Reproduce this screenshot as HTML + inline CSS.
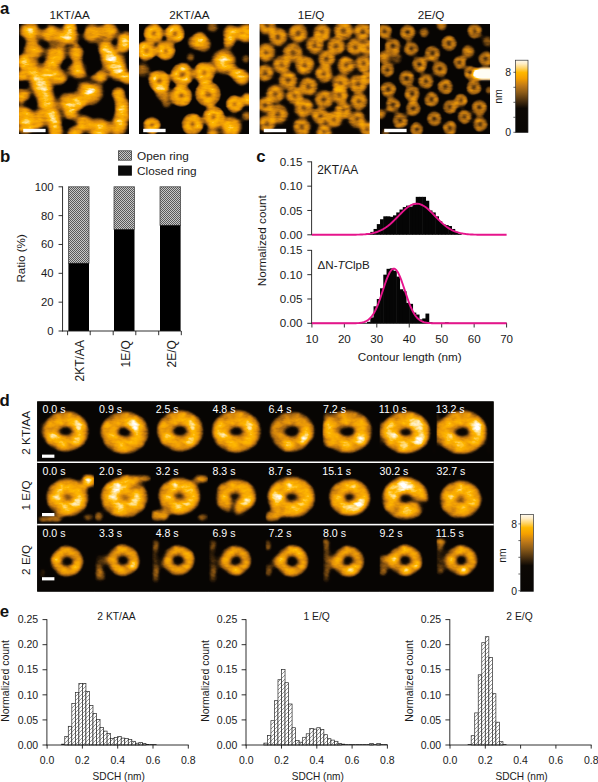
<!DOCTYPE html>
<html lang="en"><head><meta charset="utf-8"><title>Figure</title>
<style>html,body{margin:0;padding:0;background:#fff;}body{width:598px;height:782px;overflow:hidden;}svg{display:block;font-family:"Liberation Sans", Arial, Helvetica, sans-serif;}</style>
</head><body>
<svg width="598" height="782" viewBox="0 0 598 782">
<defs>
<filter id="afm" x="0" y="0" width="1" height="1" filterUnits="objectBoundingBox" color-interpolation-filters="sRGB">
<feGaussianBlur in="SourceGraphic" stdDeviation="1.6" result="b"/>
<feTurbulence type="fractalNoise" baseFrequency="0.10 0.24" numOctaves="3" seed="3" result="n"/>
<feColorMatrix in="n" type="matrix" values="0.6 0.6 0 0 0  0.6 0.6 0 0 0  0.6 0.6 0 0 0  0 0 0 0 1" result="ng"/>
<feComposite in="b" in2="ng" operator="arithmetic" k1="0.55" k2="0.725" k3="0" k4="0" result="m"/>
<feComponentTransfer in="m">
<feFuncR type="table" tableValues=".03 .03 .04 .16 .42 .65 .84 .95 1 1 1"/>
<feFuncG type="table" tableValues=".02 .02 .025 .10 .26 .40 .53 .63 .72 .88 1"/>
<feFuncB type="table" tableValues=".015 .015 .015 .03 .06 .07 .05 .02 0 .55 1"/>
<feFuncA type="linear" slope="0" intercept="1"/>
</feComponentTransfer></filter>
<filter id="afmd" x="0" y="0" width="1" height="1" filterUnits="objectBoundingBox" color-interpolation-filters="sRGB">
<feGaussianBlur in="SourceGraphic" stdDeviation="2.4" result="b"/>
<feTurbulence type="fractalNoise" baseFrequency="0.085 0.15" numOctaves="3" seed="7" result="n"/>
<feColorMatrix in="n" type="matrix" values="0.6 0.6 0 0 0  0.6 0.6 0 0 0  0.6 0.6 0 0 0  0 0 0 0 1" result="ng"/>
<feComposite in="b" in2="ng" operator="arithmetic" k1="0.75" k2="0.625" k3="0" k4="0" result="m"/>
<feComponentTransfer in="m">
<feFuncR type="table" tableValues=".03 .03 .04 .16 .42 .65 .84 .95 1 1 1"/>
<feFuncG type="table" tableValues=".02 .02 .025 .10 .26 .40 .53 .63 .72 .88 1"/>
<feFuncB type="table" tableValues=".015 .015 .015 .03 .06 .07 .05 .02 0 .55 1"/>
<feFuncA type="linear" slope="0" intercept="1"/>
</feComponentTransfer></filter>
<radialGradient id="bg"><stop offset="0" stop-color="#fff" stop-opacity="1"/><stop offset="0.45" stop-color="#fff" stop-opacity="0.82"/><stop offset="0.75" stop-color="#fff" stop-opacity="0.38"/><stop offset="1" stop-color="#fff" stop-opacity="0"/></radialGradient>
<filter id="soft" x="-0.3" y="-0.3" width="1.6" height="1.6"><feGaussianBlur stdDeviation="0.8"/></filter>
<linearGradient id="cbar" x1="0" y1="0" x2="0" y2="1">
<stop offset="0" stop-color="#fffaf0"/><stop offset="0.05" stop-color="#ffedc4"/><stop offset="0.11" stop-color="#ffd468"/>
<stop offset="0.17" stop-color="#ffb800"/><stop offset="0.25" stop-color="#f5a000"/><stop offset="0.35" stop-color="#c07a18"/>
<stop offset="0.45" stop-color="#8a5a18"/><stop offset="0.56" stop-color="#4a3010"/><stop offset="0.665" stop-color="#0c0804"/>
<stop offset="1" stop-color="#080604"/></linearGradient>
<pattern id="dots" width="2" height="2" patternUnits="userSpaceOnUse"><rect width="2" height="2" fill="#c8c8c8"/><rect width="1" height="1" fill="#5a5a5a"/><rect x="1" y="1" width="1" height="1" fill="#5a5a5a"/></pattern>
<pattern id="hatch" width="4" height="4" patternUnits="userSpaceOnUse"><rect width="4" height="4" fill="#fff"/><path d="M-1,5 L5,-1 M-1,1 L1,-1 M3,5 L5,3" stroke="#7d7d7d" stroke-width="0.8"/></pattern>
</defs>
<rect width="598" height="782" fill="#fff"/>
<text x="0.0" y="14.2" font-size="16.8" text-anchor="start" font-weight="bold" fill="#111">a</text>
<text x="0.0" y="162.1" font-size="16.8" text-anchor="start" font-weight="bold" fill="#111">b</text>
<text x="256.3" y="162.1" font-size="16.8" text-anchor="start" font-weight="bold" fill="#111">c</text>
<text x="-0.4" y="405.9" font-size="16.8" text-anchor="start" font-weight="bold" fill="#111">d</text>
<text x="-0.2" y="616.6" font-size="16.8" text-anchor="start" font-weight="bold" fill="#111">e</text>
<text x="69.6" y="18.8" font-size="11.7" text-anchor="middle" font-weight="normal" fill="#1a1a1a">1KT/AA</text>
<g transform="translate(19.0 24.0)"><svg width="110" height="110" viewBox="0 0 110 110" overflow="hidden">
<g filter="url(#afm)"><rect x="-5" y="-5" width="120" height="120" fill="#000"/>
<circle cx="11.04" cy="7.36" r="14.39" fill="url(#bg)" fill-opacity="0.792"/>
<circle cx="31.27" cy="10.12" r="13.49" fill="url(#bg)" fill-opacity="0.7480000000000001"/>
<circle cx="48.75" cy="13.25" r="14.99" fill="url(#bg)" fill-opacity="0.792"/>
<circle cx="51.51" cy="2.76" r="9.00" fill="url(#bg)" fill-opacity="0.7480000000000001"/>
<circle cx="73.58" cy="9.20" r="13.79" fill="url(#bg)" fill-opacity="0.7480000000000001"/>
<circle cx="90.14" cy="7.36" r="12.59" fill="url(#bg)" fill-opacity="0.7480000000000001"/>
<circle cx="106.70" cy="14.72" r="10.79" fill="url(#bg)" fill-opacity="0.7480000000000001"/>
<circle cx="14.72" cy="25.75" r="13.79" fill="url(#bg)" fill-opacity="0.7480000000000001"/>
<circle cx="36.79" cy="31.27" r="13.79" fill="url(#bg)" fill-opacity="0.8140000000000001"/>
<circle cx="57.03" cy="28.51" r="10.79" fill="url(#bg)" fill-opacity="0.7480000000000001"/>
<circle cx="86.46" cy="23.91" r="10.79" fill="url(#bg)" fill-opacity="0.7480000000000001"/>
<circle cx="104.86" cy="22.08" r="9.60" fill="url(#bg)" fill-opacity="0.7480000000000001"/>
<circle cx="93.82" cy="35.87" r="16.79" fill="url(#bg)" fill-opacity="0.8140000000000001"/>
<circle cx="3.68" cy="36.79" r="9.00" fill="url(#bg)" fill-opacity="0.7480000000000001"/>
<circle cx="11.04" cy="44.15" r="13.79" fill="url(#bg)" fill-opacity="0.7480000000000001"/>
<circle cx="31.27" cy="44.15" r="11.99" fill="url(#bg)" fill-opacity="0.7480000000000001"/>
<circle cx="58.87" cy="45.07" r="13.79" fill="url(#bg)" fill-opacity="0.792"/>
<circle cx="99.34" cy="47.83" r="12.59" fill="url(#bg)" fill-opacity="0.792"/>
<circle cx="108.54" cy="54.27" r="9.00" fill="url(#bg)" fill-opacity="0.7480000000000001"/>
<circle cx="2.76" cy="52.43" r="7.50" fill="url(#bg)" fill-opacity="0.7480000000000001"/>
<circle cx="22.08" cy="57.95" r="16.79" fill="url(#bg)" fill-opacity="0.8360000000000001"/>
<circle cx="40.47" cy="53.35" r="10.79" fill="url(#bg)" fill-opacity="0.7480000000000001"/>
<circle cx="80.94" cy="53.35" r="10.79" fill="url(#bg)" fill-opacity="0.7480000000000001"/>
<circle cx="70.82" cy="68.06" r="17.99" fill="url(#bg)" fill-opacity="0.8140000000000001"/>
<circle cx="25.75" cy="71.74" r="13.19" fill="url(#bg)" fill-opacity="0.7480000000000001"/>
<circle cx="3.68" cy="71.74" r="10.79" fill="url(#bg)" fill-opacity="0.7480000000000001"/>
<circle cx="99.34" cy="69.90" r="9.60" fill="url(#bg)" fill-opacity="0.7480000000000001"/>
<circle cx="49.67" cy="77.26" r="13.79" fill="url(#bg)" fill-opacity="0.7480000000000001"/>
<circle cx="60.71" cy="79.47" r="9.00" fill="url(#bg)" fill-opacity="0.7480000000000001"/>
<circle cx="29.43" cy="84.62" r="14.99" fill="url(#bg)" fill-opacity="0.7480000000000001"/>
<circle cx="103.02" cy="80.94" r="10.79" fill="url(#bg)" fill-opacity="0.7480000000000001"/>
<circle cx="103.02" cy="91.98" r="11.99" fill="url(#bg)" fill-opacity="0.7480000000000001"/>
<circle cx="3.68" cy="90.14" r="13.19" fill="url(#bg)" fill-opacity="0.7480000000000001"/>
<circle cx="16.56" cy="97.50" r="13.79" fill="url(#bg)" fill-opacity="0.7480000000000001"/>
<circle cx="51.51" cy="88.67" r="10.19" fill="url(#bg)" fill-opacity="0.7480000000000001"/>
<circle cx="34.95" cy="96.03" r="11.39" fill="url(#bg)" fill-opacity="0.7480000000000001"/>
<circle cx="80.94" cy="104.86" r="14.99" fill="url(#bg)" fill-opacity="0.792"/>
<circle cx="64.39" cy="99.34" r="12.59" fill="url(#bg)" fill-opacity="0.7480000000000001"/>
<circle cx="99.34" cy="103.38" r="12.59" fill="url(#bg)" fill-opacity="0.7480000000000001"/>
<circle cx="36.79" cy="107.06" r="10.79" fill="url(#bg)" fill-opacity="0.7480000000000001"/>
<circle cx="5.52" cy="103.38" r="10.19" fill="url(#bg)" fill-opacity="0.7480000000000001"/>
<circle cx="55.19" cy="108.90" r="9.60" fill="url(#bg)" fill-opacity="0.7480000000000001"/>
<circle cx="91.98" cy="34.03" r="6.60" fill="url(#bg)" fill-opacity="0.55"/>
<circle cx="22.08" cy="57.40" r="7.20" fill="url(#bg)" fill-opacity="0.49500000000000005"/>
<circle cx="70.82" cy="67.14" r="7.20" fill="url(#bg)" fill-opacity="0.49500000000000005"/>
<circle cx="11.04" cy="7.36" r="5.40" fill="url(#bg)" fill-opacity="0.33"/>
<circle cx="48.75" cy="12.88" r="6.00" fill="url(#bg)" fill-opacity="0.33"/>
<circle cx="80.94" cy="105.22" r="6.00" fill="url(#bg)" fill-opacity="0.33"/>
<ellipse cx="2.76" cy="17.48" rx="4.14" ry="5.79" fill="#000" fill-opacity="0.42" transform="rotate(0 2.76 17.48)"/>
<ellipse cx="23.91" cy="19.32" rx="5.79" ry="3.64" fill="#000" fill-opacity="0.42" transform="rotate(0 23.91 19.32)"/>
<ellipse cx="50.59" cy="21.71" rx="4.97" ry="2.98" fill="#000" fill-opacity="0.42" transform="rotate(0 50.59 21.71)"/>
<ellipse cx="72.66" cy="41.39" rx="9.93" ry="9.11" fill="#000" fill-opacity="0.42" transform="rotate(0 72.66 41.39)"/>
<ellipse cx="48.75" cy="38.63" rx="5.79" ry="3.64" fill="#000" fill-opacity="0.42" transform="rotate(0 48.75 38.63)"/>
<ellipse cx="4.05" cy="60.71" rx="4.97" ry="4.64" fill="#000" fill-opacity="0.42" transform="rotate(0 4.05 60.71)"/>
<ellipse cx="48.75" cy="65.31" rx="8.28" ry="4.64" fill="#000" fill-opacity="0.42" transform="rotate(0 48.75 65.31)"/>
<ellipse cx="77.26" cy="58.50" rx="18.21" ry="2.98" fill="#000" fill-opacity="0.42" transform="rotate(8 77.26 58.50)"/>
<ellipse cx="10.67" cy="79.10" rx="6.95" ry="4.30" fill="#000" fill-opacity="0.42" transform="rotate(0 10.67 79.10)"/>
<ellipse cx="87.38" cy="84.62" rx="8.28" ry="10.76" fill="#000" fill-opacity="0.42" transform="rotate(0 87.38 84.62)"/>
<ellipse cx="51.51" cy="100.26" rx="8.28" ry="2.81" fill="#000" fill-opacity="0.42" transform="rotate(0 51.51 100.26)"/>
<ellipse cx="22.08" cy="107.06" rx="3.64" ry="3.31" fill="#000" fill-opacity="0.42" transform="rotate(0 22.08 107.06)"/>
<ellipse cx="103.02" cy="29.43" rx="5.79" ry="1.99" fill="#000" fill-opacity="0.42" transform="rotate(0 103.02 29.43)"/>
<ellipse cx="23.91" cy="3.31" rx="4.64" ry="2.98" fill="#000" fill-opacity="0.42" transform="rotate(0 23.91 3.31)"/>
<ellipse cx="62.55" cy="5.52" rx="3.31" ry="4.97" fill="#000" fill-opacity="0.6" transform="rotate(0 62.55 5.52)"/>
<ellipse cx="69.90" cy="86.46" rx="6.62" ry="4.14" fill="#000" fill-opacity="0.7" transform="rotate(0 69.90 86.46)"/>
</g>
<rect x="4.2" y="104.8" width="22.4" height="3.4" fill="#fff"/>
</svg></g>
<text x="189.4" y="18.8" font-size="11.7" text-anchor="middle" font-weight="normal" fill="#1a1a1a">2KT/AA</text>
<g transform="translate(139.0 24.0)"><svg width="110" height="110" viewBox="0 0 110 110" overflow="hidden">
<g filter="url(#afm)"><rect x="-5" y="-5" width="120" height="120" fill="#000"/>
<circle cx="14.72" cy="9.20" r="6.57" fill="#fff" fill-opacity="0.44" stroke="#fff" stroke-opacity="0.53" stroke-width="7.72"/>
<circle cx="8.35" cy="10.80" r="5.21" fill="url(#bg)" fill-opacity="0.2863579051242713"/>
<circle cx="15.99" cy="2.75" r="5.21" fill="url(#bg)" fill-opacity="0.2114114291512088"/>
<circle cx="19.18" cy="14.02" r="5.21" fill="url(#bg)" fill-opacity="0.15323886189387778"/>
<circle cx="35.87" cy="9.20" r="6.57" fill="#fff" fill-opacity="0.44" stroke="#fff" stroke-opacity="0.53" stroke-width="7.72"/>
<circle cx="29.42" cy="7.97" r="5.21" fill="url(#bg)" fill-opacity="0.2627358370535915"/>
<circle cx="37.46" cy="2.82" r="5.21" fill="url(#bg)" fill-opacity="0.17461222727241457"/>
<circle cx="40.61" cy="13.75" r="5.21" fill="url(#bg)" fill-opacity="0.26573601618609194"/>
<circle cx="7.36" cy="26.67" r="6.57" fill="#fff" fill-opacity="0.44" stroke="#fff" stroke-opacity="0.53" stroke-width="7.72"/>
<circle cx="2.86" cy="21.89" r="5.21" fill="url(#bg)" fill-opacity="0.2967948157437801"/>
<circle cx="12.88" cy="30.24" r="5.21" fill="url(#bg)" fill-opacity="0.23770605603609127"/>
<circle cx="2.68" cy="31.29" r="5.21" fill="url(#bg)" fill-opacity="0.14834893712522923"/>
<circle cx="26.67" cy="26.67" r="6.57" fill="#fff" fill-opacity="0.44" stroke="#fff" stroke-opacity="0.53" stroke-width="7.72"/>
<circle cx="33.20" cy="27.45" r="5.21" fill="url(#bg)" fill-opacity="0.13071919893039388"/>
<circle cx="24.44" cy="32.85" r="5.21" fill="url(#bg)" fill-opacity="0.16354974245973863"/>
<circle cx="21.79" cy="22.29" r="5.21" fill="url(#bg)" fill-opacity="0.2035082030201912"/>
<circle cx="43.23" cy="50.59" r="7.58" fill="#fff" fill-opacity="0.44" stroke="#fff" stroke-opacity="0.53" stroke-width="8.90"/>
<circle cx="35.67" cy="51.16" r="6.02" fill="url(#bg)" fill-opacity="0.2134423406575338"/>
<circle cx="45.27" cy="43.29" r="6.02" fill="url(#bg)" fill-opacity="0.20995916739722248"/>
<circle cx="48.43" cy="56.11" r="6.02" fill="url(#bg)" fill-opacity="0.20231937868792038"/>
<circle cx="65.31" cy="48.75" r="7.07" fill="#fff" fill-opacity="0.44" stroke="#fff" stroke-opacity="0.53" stroke-width="8.31"/>
<circle cx="61.25" cy="54.54" r="5.61" fill="url(#bg)" fill-opacity="0.2992244954981158"/>
<circle cx="61.47" cy="42.81" r="5.61" fill="url(#bg)" fill-opacity="0.24740573186963088"/>
<circle cx="71.49" cy="45.31" r="5.61" fill="url(#bg)" fill-opacity="0.161339862289423"/>
<circle cx="20.24" cy="57.03" r="7.07" fill="#fff" fill-opacity="0.44" stroke="#fff" stroke-opacity="0.53" stroke-width="8.31"/>
<circle cx="21.15" cy="64.04" r="5.61" fill="url(#bg)" fill-opacity="0.25793181955387323"/>
<circle cx="14.74" cy="52.57" r="5.61" fill="url(#bg)" fill-opacity="0.2723850519386122"/>
<circle cx="26.81" cy="54.42" r="5.61" fill="url(#bg)" fill-opacity="0.29244762899756643"/>
<circle cx="68.98" cy="69.90" r="8.34" fill="#fff" fill-opacity="0.44" stroke="#fff" stroke-opacity="0.53" stroke-width="9.79"/>
<circle cx="70.44" cy="61.70" r="6.62" fill="url(#bg)" fill-opacity="0.15774913465133"/>
<circle cx="69.63" cy="78.22" r="6.62" fill="url(#bg)" fill-opacity="0.20459770968245994"/>
<circle cx="61.70" cy="65.86" r="6.62" fill="url(#bg)" fill-opacity="0.1915363898542706"/>
<circle cx="42.31" cy="71.74" r="7.07" fill="#fff" fill-opacity="0.44" stroke="#fff" stroke-opacity="0.53" stroke-width="8.31"/>
<circle cx="48.26" cy="75.57" r="5.61" fill="url(#bg)" fill-opacity="0.26013195456179716"/>
<circle cx="37.33" cy="76.77" r="5.61" fill="url(#bg)" fill-opacity="0.13568595570339062"/>
<circle cx="40.83" cy="64.83" r="5.61" fill="url(#bg)" fill-opacity="0.2935337189868775"/>
<circle cx="95.66" cy="80.02" r="5.81" fill="#fff" fill-opacity="0.44" stroke="#fff" stroke-opacity="0.53" stroke-width="6.83"/>
<circle cx="94.04" cy="74.44" r="4.61" fill="url(#bg)" fill-opacity="0.16434983080076337"/>
<circle cx="101.32" cy="81.32" r="4.61" fill="url(#bg)" fill-opacity="0.1307808125293938"/>
<circle cx="89.98" cy="81.26" r="4.61" fill="url(#bg)" fill-opacity="0.1519820630757059"/>
<circle cx="74.50" cy="92.90" r="7.07" fill="#fff" fill-opacity="0.44" stroke="#fff" stroke-opacity="0.53" stroke-width="8.31"/>
<circle cx="67.80" cy="90.63" r="5.61" fill="url(#bg)" fill-opacity="0.15432319475226589"/>
<circle cx="80.80" cy="89.68" r="5.61" fill="url(#bg)" fill-opacity="0.14357407506899153"/>
<circle cx="74.68" cy="99.97" r="5.61" fill="url(#bg)" fill-opacity="0.140971437775147"/>
<circle cx="53.35" cy="100.26" r="7.07" fill="#fff" fill-opacity="0.44" stroke="#fff" stroke-opacity="0.53" stroke-width="8.31"/>
<circle cx="48.16" cy="105.07" r="5.61" fill="url(#bg)" fill-opacity="0.16856309589430768"/>
<circle cx="56.34" cy="93.85" r="5.61" fill="url(#bg)" fill-opacity="0.2646140705547728"/>
<circle cx="59.92" cy="102.87" r="5.61" fill="url(#bg)" fill-opacity="0.27927572029481473"/>
<circle cx="12.88" cy="101.55" r="5.81" fill="#fff" fill-opacity="0.44" stroke="#fff" stroke-opacity="0.53" stroke-width="6.83"/>
<circle cx="14.81" cy="107.03" r="4.61" fill="url(#bg)" fill-opacity="0.27378784230622144"/>
<circle cx="7.53" cy="99.28" r="4.61" fill="url(#bg)" fill-opacity="0.13805989539309893"/>
<circle cx="18.35" cy="99.59" r="4.61" fill="url(#bg)" fill-opacity="0.15838380634395405"/>
<circle cx="73.58" cy="2.76" r="9.17" fill="url(#bg)" fill-opacity="0.5"/>
<circle cx="91.98" cy="9.20" r="11.13" fill="url(#bg)" fill-opacity="0.8"/>
<circle cx="90.14" cy="18.40" r="8.51" fill="url(#bg)" fill-opacity="0.66"/>
<circle cx="106.70" cy="9.20" r="13.10" fill="url(#bg)" fill-opacity="0.8"/>
<circle cx="84.62" cy="37.71" r="16.37" fill="url(#bg)" fill-opacity="0.85"/>
<circle cx="3.68" cy="45.99" r="11.13" fill="url(#bg)" fill-opacity="0.5"/>
<circle cx="103.02" cy="53.35" r="11.13" fill="url(#bg)" fill-opacity="0.8"/>
<circle cx="95.66" cy="48.75" r="8.51" fill="url(#bg)" fill-opacity="0.66"/>
<circle cx="106.70" cy="34.95" r="7.20" fill="url(#bg)" fill-opacity="0.45"/>
<circle cx="23.91" cy="68.98" r="11.13" fill="url(#bg)" fill-opacity="0.62"/>
<circle cx="108.54" cy="75.42" r="9.17" fill="url(#bg)" fill-opacity="0.8"/>
<circle cx="91.98" cy="103.02" r="14.41" fill="url(#bg)" fill-opacity="0.85"/>
<circle cx="107.62" cy="91.98" r="7.86" fill="url(#bg)" fill-opacity="0.55"/>
<circle cx="73.58" cy="108.17" r="9.17" fill="url(#bg)" fill-opacity="0.6"/>
<circle cx="51.51" cy="33.11" r="7.20" fill="url(#bg)" fill-opacity="0.45"/>
<circle cx="27.59" cy="79.47" r="7.86" fill="url(#bg)" fill-opacity="0.45"/>
<circle cx="55.19" cy="18.40" r="9.82" fill="url(#bg)" fill-opacity="0.6"/>
<circle cx="64.39" cy="20.24" r="11.13" fill="url(#bg)" fill-opacity="0.66"/>
<circle cx="60.71" cy="12.88" r="8.51" fill="url(#bg)" fill-opacity="0.55"/>
</g>
<rect x="4.2" y="104.8" width="22.4" height="3.4" fill="#fff"/>
</svg></g>
<text x="311.0" y="18.8" font-size="11.7" text-anchor="middle" font-weight="normal" fill="#1a1a1a">1E/Q</text>
<g transform="translate(259.6 24.0)"><svg width="110" height="110" viewBox="0 0 110 110" overflow="hidden">
<g filter="url(#afm)"><rect x="-5" y="-5" width="120" height="120" fill="#000"/>
<circle cx="7.36" cy="1.47" r="5.89" fill="#fff" fill-opacity="0.25" stroke="#fff" stroke-opacity="0.37" stroke-width="6.34"/>
<circle cx="5.68" cy="7.11" r="4.53" fill="url(#bg)" fill-opacity="0.1060537595766822"/>
<circle cx="1.93" cy="-0.81" r="4.53" fill="url(#bg)" fill-opacity="0.07027579747437938"/>
<circle cx="11.33" cy="-2.87" r="4.53" fill="url(#bg)" fill-opacity="0.1415828717434573"/>
<circle cx="18.40" cy="12.88" r="6.14" fill="#fff" fill-opacity="0.25" stroke="#fff" stroke-opacity="0.37" stroke-width="6.61"/>
<circle cx="18.12" cy="19.01" r="4.72" fill="url(#bg)" fill-opacity="0.11203856652305194"/>
<circle cx="12.84" cy="10.27" r="4.72" fill="url(#bg)" fill-opacity="0.19427885414822382"/>
<circle cx="23.53" cy="9.50" r="4.72" fill="url(#bg)" fill-opacity="0.14043997436019268"/>
<circle cx="38.63" cy="9.20" r="6.40" fill="#fff" fill-opacity="0.25" stroke="#fff" stroke-opacity="0.37" stroke-width="6.89"/>
<circle cx="41.44" cy="3.45" r="4.92" fill="url(#bg)" fill-opacity="0.08157894464964852"/>
<circle cx="38.37" cy="15.59" r="4.92" fill="url(#bg)" fill-opacity="0.17449227292435077"/>
<circle cx="32.23" cy="9.26" r="4.92" fill="url(#bg)" fill-opacity="0.0865720932348564"/>
<circle cx="62.55" cy="8.28" r="5.89" fill="#fff" fill-opacity="0.25" stroke="#fff" stroke-opacity="0.37" stroke-width="6.34"/>
<circle cx="64.39" cy="2.69" r="4.53" fill="url(#bg)" fill-opacity="0.08752257135641842"/>
<circle cx="66.43" cy="12.70" r="4.53" fill="url(#bg)" fill-opacity="0.18350656559729778"/>
<circle cx="57.38" cy="11.10" r="4.53" fill="url(#bg)" fill-opacity="0.11900401135263011"/>
<circle cx="83.70" cy="6.44" r="6.40" fill="#fff" fill-opacity="0.25" stroke="#fff" stroke-opacity="0.37" stroke-width="6.89"/>
<circle cx="89.90" cy="8.02" r="4.92" fill="url(#bg)" fill-opacity="0.19477541160378614"/>
<circle cx="78.51" cy="10.17" r="4.92" fill="url(#bg)" fill-opacity="0.15864112447817277"/>
<circle cx="83.17" cy="0.06" r="4.92" fill="url(#bg)" fill-opacity="0.17532049854602938"/>
<circle cx="103.02" cy="7.36" r="5.89" fill="#fff" fill-opacity="0.25" stroke="#fff" stroke-opacity="0.37" stroke-width="6.34"/>
<circle cx="97.66" cy="4.93" r="4.53" fill="url(#bg)" fill-opacity="0.0845606755472203"/>
<circle cx="108.72" cy="5.91" r="4.53" fill="url(#bg)" fill-opacity="0.06962865738344211"/>
<circle cx="103.92" cy="13.17" r="4.53" fill="url(#bg)" fill-opacity="0.13831128799536124"/>
<circle cx="6.44" cy="28.51" r="6.14" fill="#fff" fill-opacity="0.25" stroke="#fff" stroke-opacity="0.37" stroke-width="6.61"/>
<circle cx="10.59" cy="23.99" r="4.72" fill="url(#bg)" fill-opacity="0.0992307149599197"/>
<circle cx="6.68" cy="34.65" r="4.72" fill="url(#bg)" fill-opacity="0.08855704311175581"/>
<circle cx="0.58" cy="30.34" r="4.72" fill="url(#bg)" fill-opacity="0.09768714992403774"/>
<circle cx="33.11" cy="28.51" r="6.40" fill="#fff" fill-opacity="0.25" stroke="#fff" stroke-opacity="0.37" stroke-width="6.89"/>
<circle cx="28.32" cy="32.75" r="4.92" fill="url(#bg)" fill-opacity="0.0846755285521944"/>
<circle cx="33.55" cy="22.13" r="4.92" fill="url(#bg)" fill-opacity="0.14010371920637127"/>
<circle cx="39.04" cy="30.91" r="4.92" fill="url(#bg)" fill-opacity="0.11070032193792732"/>
<circle cx="55.19" cy="21.16" r="5.89" fill="#fff" fill-opacity="0.25" stroke="#fff" stroke-opacity="0.37" stroke-width="6.34"/>
<circle cx="60.87" cy="19.61" r="4.53" fill="url(#bg)" fill-opacity="0.1519704865113401"/>
<circle cx="55.16" cy="27.04" r="4.53" fill="url(#bg)" fill-opacity="0.14182163754522506"/>
<circle cx="49.31" cy="20.87" r="4.53" fill="url(#bg)" fill-opacity="0.06491127512829178"/>
<circle cx="76.34" cy="22.08" r="5.89" fill="#fff" fill-opacity="0.25" stroke="#fff" stroke-opacity="0.37" stroke-width="6.34"/>
<circle cx="81.59" cy="24.74" r="4.53" fill="url(#bg)" fill-opacity="0.1581358026240219"/>
<circle cx="71.27" cy="25.05" r="4.53" fill="url(#bg)" fill-opacity="0.0629762849492742"/>
<circle cx="74.65" cy="16.44" r="4.53" fill="url(#bg)" fill-opacity="0.1275130011842987"/>
<circle cx="95.66" cy="22.99" r="5.63" fill="#fff" fill-opacity="0.25" stroke="#fff" stroke-opacity="0.37" stroke-width="6.06"/>
<circle cx="94.10" cy="17.59" r="4.33" fill="url(#bg)" fill-opacity="0.19991006769344574"/>
<circle cx="101.29" cy="23.17" r="4.33" fill="url(#bg)" fill-opacity="0.13645335027194488"/>
<circle cx="90.56" cy="25.39" r="4.33" fill="url(#bg)" fill-opacity="0.18602742337491307"/>
<circle cx="108.90" cy="23.91" r="5.12" fill="#fff" fill-opacity="0.25" stroke="#fff" stroke-opacity="0.37" stroke-width="5.51"/>
<circle cx="109.40" cy="18.82" r="3.94" fill="url(#bg)" fill-opacity="0.17105733465308776"/>
<circle cx="112.45" cy="27.60" r="3.94" fill="url(#bg)" fill-opacity="0.10925677353061553"/>
<circle cx="104.28" cy="26.11" r="3.94" fill="url(#bg)" fill-opacity="0.18611703150625306"/>
<circle cx="22.08" cy="40.47" r="5.89" fill="#fff" fill-opacity="0.25" stroke="#fff" stroke-opacity="0.37" stroke-width="6.34"/>
<circle cx="25.81" cy="35.93" r="4.53" fill="url(#bg)" fill-opacity="0.17067448008237596"/>
<circle cx="21.89" cy="46.35" r="4.53" fill="url(#bg)" fill-opacity="0.14019304977383132"/>
<circle cx="16.54" cy="38.47" r="4.53" fill="url(#bg)" fill-opacity="0.11352669382903499"/>
<circle cx="45.07" cy="41.39" r="6.40" fill="#fff" fill-opacity="0.25" stroke="#fff" stroke-opacity="0.37" stroke-width="6.89"/>
<circle cx="39.84" cy="37.70" r="4.92" fill="url(#bg)" fill-opacity="0.07122828403629944"/>
<circle cx="50.95" cy="38.86" r="4.92" fill="url(#bg)" fill-opacity="0.19906510633236513"/>
<circle cx="43.01" cy="47.45" r="4.92" fill="url(#bg)" fill-opacity="0.1619489907191767"/>
<circle cx="67.14" cy="34.95" r="5.63" fill="#fff" fill-opacity="0.25" stroke="#fff" stroke-opacity="0.37" stroke-width="6.06"/>
<circle cx="62.19" cy="37.63" r="4.33" fill="url(#bg)" fill-opacity="0.14133340302173653"/>
<circle cx="65.87" cy="29.47" r="4.33" fill="url(#bg)" fill-opacity="0.17737180408667963"/>
<circle cx="72.77" cy="34.86" r="4.33" fill="url(#bg)" fill-opacity="0.1650294248166262"/>
<circle cx="86.46" cy="41.39" r="5.89" fill="#fff" fill-opacity="0.25" stroke="#fff" stroke-opacity="0.37" stroke-width="6.34"/>
<circle cx="92.12" cy="42.99" r="4.53" fill="url(#bg)" fill-opacity="0.12733395414889376"/>
<circle cx="83.77" cy="46.62" r="4.53" fill="url(#bg)" fill-opacity="0.1577668551788024"/>
<circle cx="84.50" cy="35.84" r="4.53" fill="url(#bg)" fill-opacity="0.14603045666529552"/>
<circle cx="103.94" cy="39.55" r="5.63" fill="#fff" fill-opacity="0.25" stroke="#fff" stroke-opacity="0.37" stroke-width="6.06"/>
<circle cx="108.20" cy="35.87" r="4.33" fill="url(#bg)" fill-opacity="0.06158300870294264"/>
<circle cx="104.78" cy="45.12" r="4.33" fill="url(#bg)" fill-opacity="0.15493917707835236"/>
<circle cx="98.54" cy="37.95" r="4.33" fill="url(#bg)" fill-opacity="0.08374500144666418"/>
<circle cx="5.52" cy="48.75" r="5.63" fill="#fff" fill-opacity="0.25" stroke="#fff" stroke-opacity="0.37" stroke-width="6.06"/>
<circle cx="10.58" cy="46.29" r="4.33" fill="url(#bg)" fill-opacity="0.12187054730775612"/>
<circle cx="4.00" cy="54.17" r="4.33" fill="url(#bg)" fill-opacity="0.10577448663611712"/>
<circle cx="0.87" cy="45.57" r="4.33" fill="url(#bg)" fill-opacity="0.08779080904114424"/>
<circle cx="28.51" cy="56.11" r="6.14" fill="#fff" fill-opacity="0.25" stroke="#fff" stroke-opacity="0.37" stroke-width="6.61"/>
<circle cx="22.46" cy="57.13" r="4.72" fill="url(#bg)" fill-opacity="0.18799096784026073"/>
<circle cx="31.02" cy="50.50" r="4.72" fill="url(#bg)" fill-opacity="0.11381861560598643"/>
<circle cx="33.27" cy="60.00" r="4.72" fill="url(#bg)" fill-opacity="0.10430815822917935"/>
<circle cx="64.39" cy="49.67" r="5.89" fill="#fff" fill-opacity="0.25" stroke="#fff" stroke-opacity="0.37" stroke-width="6.34"/>
<circle cx="68.26" cy="54.10" r="4.53" fill="url(#bg)" fill-opacity="0.1771933864458755"/>
<circle cx="58.54" cy="49.01" r="4.53" fill="url(#bg)" fill-opacity="0.15957048661246495"/>
<circle cx="68.29" cy="45.26" r="4.53" fill="url(#bg)" fill-opacity="0.09875143956437757"/>
<circle cx="48.75" cy="62.55" r="6.14" fill="#fff" fill-opacity="0.25" stroke="#fff" stroke-opacity="0.37" stroke-width="6.61"/>
<circle cx="51.97" cy="67.78" r="4.72" fill="url(#bg)" fill-opacity="0.09852279521228717"/>
<circle cx="42.78" cy="63.97" r="4.72" fill="url(#bg)" fill-opacity="0.11795787210432242"/>
<circle cx="52.46" cy="57.65" r="4.72" fill="url(#bg)" fill-opacity="0.12914255137816533"/>
<circle cx="80.94" cy="58.87" r="5.89" fill="#fff" fill-opacity="0.25" stroke="#fff" stroke-opacity="0.37" stroke-width="6.34"/>
<circle cx="77.12" cy="63.34" r="4.53" fill="url(#bg)" fill-opacity="0.19748511081538117"/>
<circle cx="77.25" cy="54.28" r="4.53" fill="url(#bg)" fill-opacity="0.07045509037391715"/>
<circle cx="86.04" cy="55.93" r="4.53" fill="url(#bg)" fill-opacity="0.18219606760932233"/>
<circle cx="98.42" cy="59.79" r="6.14" fill="#fff" fill-opacity="0.25" stroke="#fff" stroke-opacity="0.37" stroke-width="6.61"/>
<circle cx="103.97" cy="62.42" r="4.72" fill="url(#bg)" fill-opacity="0.1398814744471763"/>
<circle cx="94.86" cy="64.79" r="4.72" fill="url(#bg)" fill-opacity="0.17081189303819433"/>
<circle cx="94.54" cy="55.02" r="4.72" fill="url(#bg)" fill-opacity="0.07902336222474625"/>
<circle cx="15.64" cy="69.90" r="6.14" fill="#fff" fill-opacity="0.25" stroke="#fff" stroke-opacity="0.37" stroke-width="6.61"/>
<circle cx="10.93" cy="73.85" r="4.72" fill="url(#bg)" fill-opacity="0.176153580824269"/>
<circle cx="15.70" cy="63.76" r="4.72" fill="url(#bg)" fill-opacity="0.07972243362336326"/>
<circle cx="21.37" cy="72.11" r="4.72" fill="url(#bg)" fill-opacity="0.14808524277912583"/>
<circle cx="34.95" cy="71.74" r="5.63" fill="#fff" fill-opacity="0.25" stroke="#fff" stroke-opacity="0.37" stroke-width="6.06"/>
<circle cx="29.46" cy="72.99" r="4.33" fill="url(#bg)" fill-opacity="0.15170602567187114"/>
<circle cx="37.43" cy="66.69" r="4.33" fill="url(#bg)" fill-opacity="0.19418449126866144"/>
<circle cx="38.57" cy="76.05" r="4.33" fill="url(#bg)" fill-opacity="0.08790779914958248"/>
<circle cx="64.39" cy="75.42" r="6.14" fill="#fff" fill-opacity="0.25" stroke="#fff" stroke-opacity="0.37" stroke-width="6.61"/>
<circle cx="58.82" cy="78.02" r="4.72" fill="url(#bg)" fill-opacity="0.06150733355959605"/>
<circle cx="66.45" cy="69.64" r="4.72" fill="url(#bg)" fill-opacity="0.15998393375474587"/>
<circle cx="69.42" cy="78.95" r="4.72" fill="url(#bg)" fill-opacity="0.09812969110162362"/>
<circle cx="80.02" cy="70.82" r="5.63" fill="#fff" fill-opacity="0.25" stroke="#fff" stroke-opacity="0.37" stroke-width="6.06"/>
<circle cx="76.09" cy="74.85" r="4.33" fill="url(#bg)" fill-opacity="0.13285921253307342"/>
<circle cx="78.11" cy="65.53" r="4.33" fill="url(#bg)" fill-opacity="0.16586895989095368"/>
<circle cx="85.65" cy="70.74" r="4.33" fill="url(#bg)" fill-opacity="0.1708705133048498"/>
<circle cx="99.34" cy="77.26" r="5.63" fill="#fff" fill-opacity="0.25" stroke="#fff" stroke-opacity="0.37" stroke-width="6.06"/>
<circle cx="102.62" cy="72.69" r="4.33" fill="url(#bg)" fill-opacity="0.19056453589328276"/>
<circle cx="98.62" cy="82.85" r="4.33" fill="url(#bg)" fill-opacity="0.0781873889496208"/>
<circle cx="94.19" cy="74.98" r="4.33" fill="url(#bg)" fill-opacity="0.1475767445879103"/>
<circle cx="44.15" cy="83.70" r="6.40" fill="#fff" fill-opacity="0.25" stroke="#fff" stroke-opacity="0.37" stroke-width="6.89"/>
<circle cx="49.15" cy="79.71" r="4.92" fill="url(#bg)" fill-opacity="0.13963396617304033"/>
<circle cx="42.33" cy="89.83" r="4.92" fill="url(#bg)" fill-opacity="0.17154741372706736"/>
<circle cx="40.02" cy="78.82" r="4.92" fill="url(#bg)" fill-opacity="0.12491908256490097"/>
<circle cx="18.40" cy="90.14" r="6.65" fill="#fff" fill-opacity="0.25" stroke="#fff" stroke-opacity="0.37" stroke-width="7.16"/>
<circle cx="13.28" cy="85.89" r="5.12" fill="url(#bg)" fill-opacity="0.1610709911678893"/>
<circle cx="24.94" cy="91.34" r="5.12" fill="url(#bg)" fill-opacity="0.14982628292882638"/>
<circle cx="14.55" cy="95.57" r="5.12" fill="url(#bg)" fill-opacity="0.08986152107954669"/>
<circle cx="60.71" cy="91.98" r="5.63" fill="#fff" fill-opacity="0.25" stroke="#fff" stroke-opacity="0.37" stroke-width="6.06"/>
<circle cx="66.21" cy="90.81" r="4.33" fill="url(#bg)" fill-opacity="0.1968301931275432"/>
<circle cx="61.11" cy="97.59" r="4.33" fill="url(#bg)" fill-opacity="0.17071019821254735"/>
<circle cx="55.27" cy="90.52" r="4.33" fill="url(#bg)" fill-opacity="0.1873985607963618"/>
<circle cx="83.70" cy="86.46" r="5.63" fill="#fff" fill-opacity="0.25" stroke="#fff" stroke-opacity="0.37" stroke-width="6.06"/>
<circle cx="86.56" cy="81.61" r="4.33" fill="url(#bg)" fill-opacity="0.07158816162644982"/>
<circle cx="86.07" cy="91.57" r="4.33" fill="url(#bg)" fill-opacity="0.13704226984827508"/>
<circle cx="78.46" cy="84.40" r="4.33" fill="url(#bg)" fill-opacity="0.12824264890526332"/>
<circle cx="74.50" cy="95.66" r="5.37" fill="#fff" fill-opacity="0.25" stroke="#fff" stroke-opacity="0.37" stroke-width="5.79"/>
<circle cx="79.35" cy="97.99" r="4.13" fill="url(#bg)" fill-opacity="0.06896796062626541"/>
<circle cx="70.09" cy="98.72" r="4.13" fill="url(#bg)" fill-opacity="0.08420548300919736"/>
<circle cx="71.98" cy="90.91" r="4.13" fill="url(#bg)" fill-opacity="0.1703068282324151"/>
<circle cx="97.50" cy="95.66" r="5.63" fill="#fff" fill-opacity="0.25" stroke="#fff" stroke-opacity="0.37" stroke-width="6.06"/>
<circle cx="102.22" cy="98.73" r="4.33" fill="url(#bg)" fill-opacity="0.13231348846911944"/>
<circle cx="91.87" cy="95.49" r="4.33" fill="url(#bg)" fill-opacity="0.1775967019416696"/>
<circle cx="100.32" cy="90.79" r="4.33" fill="url(#bg)" fill-opacity="0.1924046355723696"/>
<circle cx="42.31" cy="103.02" r="5.89" fill="#fff" fill-opacity="0.25" stroke="#fff" stroke-opacity="0.37" stroke-width="6.34"/>
<circle cx="36.77" cy="101.02" r="4.53" fill="url(#bg)" fill-opacity="0.0720432910777441"/>
<circle cx="43.67" cy="97.29" r="4.53" fill="url(#bg)" fill-opacity="0.1337328766154386"/>
<circle cx="46.34" cy="107.31" r="4.53" fill="url(#bg)" fill-opacity="0.16203804819743606"/>
<circle cx="7.36" cy="99.34" r="5.63" fill="#fff" fill-opacity="0.25" stroke="#fff" stroke-opacity="0.37" stroke-width="6.06"/>
<circle cx="3.83" cy="94.95" r="4.33" fill="url(#bg)" fill-opacity="0.1781072758660442"/>
<circle cx="12.95" cy="98.65" r="4.33" fill="url(#bg)" fill-opacity="0.10363765875981608"/>
<circle cx="5.99" cy="104.80" r="4.33" fill="url(#bg)" fill-opacity="0.17833647937930958"/>
<circle cx="107.62" cy="104.86" r="5.12" fill="#fff" fill-opacity="0.25" stroke="#fff" stroke-opacity="0.37" stroke-width="5.51"/>
<circle cx="110.88" cy="100.91" r="3.94" fill="url(#bg)" fill-opacity="0.17910797282875363"/>
<circle cx="106.07" cy="109.73" r="3.94" fill="url(#bg)" fill-opacity="0.13339163227539313"/>
<circle cx="103.09" cy="102.47" r="3.94" fill="url(#bg)" fill-opacity="0.08813541157209645"/>
<circle cx="64.39" cy="108.17" r="5.12" fill="#fff" fill-opacity="0.25" stroke="#fff" stroke-opacity="0.37" stroke-width="5.51"/>
<circle cx="59.40" cy="107.01" r="3.94" fill="url(#bg)" fill-opacity="0.14473188484299354"/>
<circle cx="66.08" cy="103.34" r="3.94" fill="url(#bg)" fill-opacity="0.1957166806321845"/>
<circle cx="65.82" cy="113.08" r="3.94" fill="url(#bg)" fill-opacity="0.11608175081133502"/>
<circle cx="5.52" cy="80.94" r="5.12" fill="#fff" fill-opacity="0.25" stroke="#fff" stroke-opacity="0.37" stroke-width="5.51"/>
<circle cx="7.40" cy="76.18" r="3.94" fill="url(#bg)" fill-opacity="0.12874566251822622"/>
<circle cx="8.24" cy="85.28" r="3.94" fill="url(#bg)" fill-opacity="0.06922603197630954"/>
<circle cx="0.47" cy="81.80" r="3.94" fill="url(#bg)" fill-opacity="0.11792837224088323"/>
<circle cx="108.90" cy="53.35" r="4.61" fill="#fff" fill-opacity="0.25" stroke="#fff" stroke-opacity="0.37" stroke-width="4.96"/>
<circle cx="113.49" cy="53.80" r="3.54" fill="url(#bg)" fill-opacity="0.0976899306064758"/>
<circle cx="107.86" cy="57.83" r="3.54" fill="url(#bg)" fill-opacity="0.0777754624750861"/>
<circle cx="105.44" cy="50.32" r="3.54" fill="url(#bg)" fill-opacity="0.17420038782802622"/>
<rect x="-5.00" y="-5.00" width="120.00" height="120.00" fill="#fff" fill-opacity="0.17"/>
</g>
<rect x="4.2" y="104.8" width="22.4" height="3.4" fill="#fff"/>
</svg></g>
<text x="431.0" y="18.8" font-size="11.7" text-anchor="middle" font-weight="normal" fill="#1a1a1a">2E/Q</text>
<g transform="translate(380.0 24.0)"><svg width="110" height="110" viewBox="0 0 110 110" overflow="hidden">
<g filter="url(#afm)"><rect x="-5" y="-5" width="120" height="120" fill="#000"/>
<circle cx="4.60" cy="7.36" r="5.44" fill="#fff" fill-opacity="0.26" stroke="#fff" stroke-opacity="0.39" stroke-width="6.12"/>
<circle cx="8.94" cy="4.09" r="4.25" fill="url(#bg)" fill-opacity="0.10441005047564142"/>
<circle cx="6.57" cy="12.43" r="4.25" fill="url(#bg)" fill-opacity="0.14650528329698745"/>
<circle cx="0.78" cy="3.48" r="4.25" fill="url(#bg)" fill-opacity="0.07812460302036207"/>
<circle cx="27.59" cy="8.28" r="5.70" fill="#fff" fill-opacity="0.26" stroke="#fff" stroke-opacity="0.39" stroke-width="6.41"/>
<circle cx="26.28" cy="2.73" r="4.45" fill="url(#bg)" fill-opacity="0.08717492432723989"/>
<circle cx="32.68" cy="10.86" r="4.45" fill="url(#bg)" fill-opacity="0.15618476494976388"/>
<circle cx="22.58" cy="10.98" r="4.45" fill="url(#bg)" fill-opacity="0.10974859278071919"/>
<circle cx="94.74" cy="7.36" r="5.44" fill="#fff" fill-opacity="0.26" stroke="#fff" stroke-opacity="0.39" stroke-width="6.12"/>
<circle cx="89.75" cy="5.20" r="4.25" fill="url(#bg)" fill-opacity="0.16232512504989757"/>
<circle cx="99.15" cy="4.18" r="4.25" fill="url(#bg)" fill-opacity="0.13146566754053257"/>
<circle cx="94.68" cy="12.80" r="4.25" fill="url(#bg)" fill-opacity="0.08768203868114545"/>
<circle cx="12.88" cy="22.08" r="5.70" fill="#fff" fill-opacity="0.26" stroke="#fff" stroke-opacity="0.39" stroke-width="6.41"/>
<circle cx="7.23" cy="21.31" r="4.45" fill="url(#bg)" fill-opacity="0.11260306752190682"/>
<circle cx="16.27" cy="17.50" r="4.45" fill="url(#bg)" fill-opacity="0.1341086779997588"/>
<circle cx="16.23" cy="26.68" r="4.45" fill="url(#bg)" fill-opacity="0.08859727383358379"/>
<circle cx="31.27" cy="24.83" r="5.44" fill="#fff" fill-opacity="0.26" stroke="#fff" stroke-opacity="0.39" stroke-width="6.12"/>
<circle cx="28.09" cy="20.42" r="4.25" fill="url(#bg)" fill-opacity="0.13414666243094198"/>
<circle cx="36.69" cy="25.29" r="4.25" fill="url(#bg)" fill-opacity="0.1456395597914625"/>
<circle cx="28.14" cy="29.28" r="4.25" fill="url(#bg)" fill-opacity="0.09257217502650089"/>
<circle cx="68.98" cy="19.32" r="5.70" fill="#fff" fill-opacity="0.26" stroke="#fff" stroke-opacity="0.39" stroke-width="6.41"/>
<circle cx="70.19" cy="13.75" r="4.45" fill="url(#bg)" fill-opacity="0.18637485418736113"/>
<circle cx="74.42" cy="21.03" r="4.45" fill="url(#bg)" fill-opacity="0.10409838068999325"/>
<circle cx="63.41" cy="20.52" r="4.45" fill="url(#bg)" fill-opacity="0.09054020351889756"/>
<circle cx="52.43" cy="29.43" r="5.70" fill="#fff" fill-opacity="0.26" stroke="#fff" stroke-opacity="0.39" stroke-width="6.41"/>
<circle cx="57.82" cy="31.27" r="4.45" fill="url(#bg)" fill-opacity="0.07875051144105139"/>
<circle cx="50.82" cy="34.90" r="4.45" fill="url(#bg)" fill-opacity="0.1617207110847549"/>
<circle cx="48.57" cy="25.24" r="4.45" fill="url(#bg)" fill-opacity="0.07358222261720607"/>
<circle cx="105.78" cy="34.95" r="5.44" fill="#fff" fill-opacity="0.26" stroke="#fff" stroke-opacity="0.39" stroke-width="6.12"/>
<circle cx="108.13" cy="30.05" r="4.25" fill="url(#bg)" fill-opacity="0.17059101550785793"/>
<circle cx="109.89" cy="38.51" r="4.25" fill="url(#bg)" fill-opacity="0.11638903221427634"/>
<circle cx="100.40" cy="34.12" r="4.25" fill="url(#bg)" fill-opacity="0.06248621458893982"/>
<circle cx="39.55" cy="40.47" r="5.70" fill="#fff" fill-opacity="0.26" stroke="#fff" stroke-opacity="0.39" stroke-width="6.41"/>
<circle cx="40.40" cy="46.11" r="4.45" fill="url(#bg)" fill-opacity="0.18759221624535594"/>
<circle cx="34.93" cy="37.14" r="4.45" fill="url(#bg)" fill-opacity="0.0761574341256889"/>
<circle cx="43.41" cy="36.28" r="4.45" fill="url(#bg)" fill-opacity="0.16614162048764203"/>
<circle cx="59.79" cy="45.07" r="5.70" fill="#fff" fill-opacity="0.26" stroke="#fff" stroke-opacity="0.39" stroke-width="6.41"/>
<circle cx="54.18" cy="44.05" r="4.45" fill="url(#bg)" fill-opacity="0.08646102035342247"/>
<circle cx="60.73" cy="39.45" r="4.45" fill="url(#bg)" fill-opacity="0.0748642650500138"/>
<circle cx="64.28" cy="48.57" r="4.45" fill="url(#bg)" fill-opacity="0.13723401029311777"/>
<circle cx="7.36" cy="45.99" r="5.18" fill="#fff" fill-opacity="0.26" stroke="#fff" stroke-opacity="0.39" stroke-width="5.83"/>
<circle cx="2.24" cy="45.20" r="4.05" fill="url(#bg)" fill-opacity="0.08051767503127424"/>
<circle cx="9.09" cy="41.11" r="4.05" fill="url(#bg)" fill-opacity="0.0885479624878528"/>
<circle cx="8.05" cy="51.12" r="4.05" fill="url(#bg)" fill-opacity="0.19864219322527366"/>
<circle cx="26.67" cy="54.27" r="5.70" fill="#fff" fill-opacity="0.26" stroke="#fff" stroke-opacity="0.39" stroke-width="6.41"/>
<circle cx="30.59" cy="50.13" r="4.45" fill="url(#bg)" fill-opacity="0.0686723114462423"/>
<circle cx="24.15" cy="59.38" r="4.45" fill="url(#bg)" fill-opacity="0.1246899037872612"/>
<circle cx="22.78" cy="50.11" r="4.45" fill="url(#bg)" fill-opacity="0.10575581755283335"/>
<circle cx="45.99" cy="57.03" r="5.70" fill="#fff" fill-opacity="0.26" stroke="#fff" stroke-opacity="0.39" stroke-width="6.41"/>
<circle cx="40.40" cy="58.13" r="4.45" fill="url(#bg)" fill-opacity="0.12021137497880993"/>
<circle cx="48.23" cy="51.79" r="4.45" fill="url(#bg)" fill-opacity="0.06185444063515129"/>
<circle cx="49.00" cy="61.87" r="4.45" fill="url(#bg)" fill-opacity="0.1781968017521347"/>
<circle cx="65.31" cy="62.55" r="5.70" fill="#fff" fill-opacity="0.26" stroke="#fff" stroke-opacity="0.39" stroke-width="6.41"/>
<circle cx="67.90" cy="67.62" r="4.45" fill="url(#bg)" fill-opacity="0.16350679302086785"/>
<circle cx="59.61" cy="62.49" r="4.45" fill="url(#bg)" fill-opacity="0.08731762666018394"/>
<circle cx="67.11" cy="57.14" r="4.45" fill="url(#bg)" fill-opacity="0.13175851174390973"/>
<circle cx="93.82" cy="63.47" r="5.44" fill="#fff" fill-opacity="0.26" stroke="#fff" stroke-opacity="0.39" stroke-width="6.12"/>
<circle cx="98.74" cy="65.78" r="4.25" fill="url(#bg)" fill-opacity="0.17223886294563778"/>
<circle cx="89.92" cy="67.26" r="4.25" fill="url(#bg)" fill-opacity="0.18050244917887248"/>
<circle cx="92.14" cy="58.29" r="4.25" fill="url(#bg)" fill-opacity="0.11663138791736777"/>
<circle cx="8.28" cy="65.31" r="5.70" fill="#fff" fill-opacity="0.26" stroke="#fff" stroke-opacity="0.39" stroke-width="6.41"/>
<circle cx="3.67" cy="61.95" r="4.45" fill="url(#bg)" fill-opacity="0.1975752348284158"/>
<circle cx="13.91" cy="64.42" r="4.45" fill="url(#bg)" fill-opacity="0.09615699439594302"/>
<circle cx="5.74" cy="70.41" r="4.45" fill="url(#bg)" fill-opacity="0.16422088685644284"/>
<circle cx="32.19" cy="69.90" r="5.70" fill="#fff" fill-opacity="0.26" stroke="#fff" stroke-opacity="0.39" stroke-width="6.41"/>
<circle cx="34.67" cy="64.77" r="4.45" fill="url(#bg)" fill-opacity="0.11678913264460941"/>
<circle cx="35.05" cy="74.83" r="4.45" fill="url(#bg)" fill-opacity="0.18317781146945317"/>
<circle cx="26.58" cy="70.91" r="4.45" fill="url(#bg)" fill-opacity="0.16741777211748154"/>
<circle cx="51.51" cy="75.42" r="5.44" fill="#fff" fill-opacity="0.26" stroke="#fff" stroke-opacity="0.39" stroke-width="6.12"/>
<circle cx="51.58" cy="69.98" r="4.25" fill="url(#bg)" fill-opacity="0.16116880957688717"/>
<circle cx="56.79" cy="76.74" r="4.25" fill="url(#bg)" fill-opacity="0.10784061254737165"/>
<circle cx="46.62" cy="77.81" r="4.25" fill="url(#bg)" fill-opacity="0.06148324477916019"/>
<circle cx="80.94" cy="76.34" r="4.92" fill="#fff" fill-opacity="0.26" stroke="#fff" stroke-opacity="0.39" stroke-width="5.54"/>
<circle cx="77.46" cy="79.82" r="3.84" fill="url(#bg)" fill-opacity="0.1473628390352411"/>
<circle cx="78.09" cy="72.33" r="3.84" fill="url(#bg)" fill-opacity="0.1922545957162933"/>
<circle cx="85.66" cy="77.73" r="3.84" fill="url(#bg)" fill-opacity="0.10729418598299245"/>
<circle cx="12.88" cy="80.94" r="5.44" fill="#fff" fill-opacity="0.26" stroke="#fff" stroke-opacity="0.39" stroke-width="6.12"/>
<circle cx="10.24" cy="76.18" r="4.25" fill="url(#bg)" fill-opacity="0.13463115476635662"/>
<circle cx="18.26" cy="80.18" r="4.25" fill="url(#bg)" fill-opacity="0.19998418219136668"/>
<circle cx="9.79" cy="85.42" r="4.25" fill="url(#bg)" fill-opacity="0.1581750973816623"/>
<circle cx="69.90" cy="82.78" r="5.18" fill="#fff" fill-opacity="0.26" stroke="#fff" stroke-opacity="0.39" stroke-width="5.83"/>
<circle cx="72.35" cy="78.22" r="4.05" fill="url(#bg)" fill-opacity="0.06319487151553936"/>
<circle cx="73.87" cy="86.11" r="4.05" fill="url(#bg)" fill-opacity="0.1634312831847694"/>
<circle cx="65.82" cy="85.97" r="4.05" fill="url(#bg)" fill-opacity="0.11621779151757494"/>
<circle cx="33.11" cy="84.62" r="5.44" fill="#fff" fill-opacity="0.26" stroke="#fff" stroke-opacity="0.39" stroke-width="6.12"/>
<circle cx="38.54" cy="84.90" r="4.25" fill="url(#bg)" fill-opacity="0.11259473891190613"/>
<circle cx="30.55" cy="89.42" r="4.25" fill="url(#bg)" fill-opacity="0.09512424378541735"/>
<circle cx="33.91" cy="79.24" r="4.25" fill="url(#bg)" fill-opacity="0.13700807672491858"/>
<circle cx="99.34" cy="83.70" r="5.70" fill="#fff" fill-opacity="0.26" stroke="#fff" stroke-opacity="0.39" stroke-width="6.41"/>
<circle cx="94.22" cy="81.19" r="4.45" fill="url(#bg)" fill-opacity="0.1395169910676321"/>
<circle cx="104.15" cy="80.65" r="4.45" fill="url(#bg)" fill-opacity="0.14932176382994772"/>
<circle cx="100.49" cy="89.28" r="4.45" fill="url(#bg)" fill-opacity="0.07066743848411874"/>
<circle cx="84.62" cy="92.90" r="5.18" fill="#fff" fill-opacity="0.26" stroke="#fff" stroke-opacity="0.39" stroke-width="5.83"/>
<circle cx="81.16" cy="89.04" r="4.05" fill="url(#bg)" fill-opacity="0.06631590659990327"/>
<circle cx="89.79" cy="92.59" r="4.05" fill="url(#bg)" fill-opacity="0.08239042024334034"/>
<circle cx="84.29" cy="98.07" r="4.05" fill="url(#bg)" fill-opacity="0.08367717102016607"/>
<circle cx="54.27" cy="94.74" r="5.44" fill="#fff" fill-opacity="0.26" stroke="#fff" stroke-opacity="0.39" stroke-width="6.12"/>
<circle cx="48.84" cy="94.36" r="4.25" fill="url(#bg)" fill-opacity="0.06819634541974189"/>
<circle cx="58.47" cy="91.29" r="4.25" fill="url(#bg)" fill-opacity="0.11889854147896932"/>
<circle cx="57.01" cy="99.44" r="4.25" fill="url(#bg)" fill-opacity="0.14369648161333232"/>
<circle cx="20.24" cy="96.58" r="5.70" fill="#fff" fill-opacity="0.26" stroke="#fff" stroke-opacity="0.39" stroke-width="6.41"/>
<circle cx="17.31" cy="101.47" r="4.45" fill="url(#bg)" fill-opacity="0.15171561641816655"/>
<circle cx="18.73" cy="91.08" r="4.45" fill="url(#bg)" fill-opacity="0.09969398642259082"/>
<circle cx="25.50" cy="98.75" r="4.45" fill="url(#bg)" fill-opacity="0.10144566970885235"/>
<circle cx="100.26" cy="100.26" r="5.44" fill="#fff" fill-opacity="0.26" stroke="#fff" stroke-opacity="0.39" stroke-width="6.12"/>
<circle cx="105.65" cy="99.53" r="4.25" fill="url(#bg)" fill-opacity="0.06598836160167279"/>
<circle cx="98.59" cy="105.43" r="4.25" fill="url(#bg)" fill-opacity="0.16565023255203726"/>
<circle cx="97.50" cy="95.57" r="4.25" fill="url(#bg)" fill-opacity="0.18565589594930534"/>
<circle cx="36.79" cy="105.22" r="4.92" fill="#fff" fill-opacity="0.26" stroke="#fff" stroke-opacity="0.39" stroke-width="5.54"/>
<circle cx="34.86" cy="100.70" r="3.84" fill="url(#bg)" fill-opacity="0.19842772261224134"/>
<circle cx="39.85" cy="109.08" r="3.84" fill="url(#bg)" fill-opacity="0.07029059955226499"/>
<circle cx="31.95" cy="106.11" r="3.84" fill="url(#bg)" fill-opacity="0.12013220355419418"/>
<circle cx="69.90" cy="103.94" r="5.18" fill="#fff" fill-opacity="0.26" stroke="#fff" stroke-opacity="0.39" stroke-width="5.83"/>
<circle cx="64.91" cy="102.54" r="4.05" fill="url(#bg)" fill-opacity="0.0941191617128309"/>
<circle cx="71.94" cy="99.17" r="4.05" fill="url(#bg)" fill-opacity="0.19121793339717075"/>
<circle cx="72.25" cy="108.56" r="4.05" fill="url(#bg)" fill-opacity="0.1255690492705333"/>
<circle cx="79.47" cy="38.45" r="4.79" fill="#fff" fill-opacity="0.26" stroke="#fff" stroke-opacity="0.39" stroke-width="5.39"/>
<circle cx="84.21" cy="39.13" r="3.74" fill="url(#bg)" fill-opacity="0.14450726076138654"/>
<circle cx="79.21" cy="43.23" r="3.74" fill="url(#bg)" fill-opacity="0.14739471598269133"/>
<circle cx="76.40" cy="34.77" r="3.74" fill="url(#bg)" fill-opacity="0.0885119716864681"/>
<circle cx="90.51" cy="48.75" r="4.92" fill="#fff" fill-opacity="0.26" stroke="#fff" stroke-opacity="0.39" stroke-width="5.54"/>
<circle cx="95.13" cy="50.44" r="3.84" fill="url(#bg)" fill-opacity="0.07740562655674135"/>
<circle cx="86.97" cy="52.17" r="3.84" fill="url(#bg)" fill-opacity="0.1535047763465066"/>
<circle cx="89.36" cy="43.96" r="3.84" fill="url(#bg)" fill-opacity="0.09669811717825413"/>
<circle cx="44.15" cy="8.28" r="7.86" fill="url(#bg)" fill-opacity="0.55"/>
<circle cx="61.63" cy="0.92" r="8.51" fill="url(#bg)" fill-opacity="0.6"/>
<circle cx="107.62" cy="17.48" r="9.17" fill="url(#bg)" fill-opacity="0.45"/>
<circle cx="88.30" cy="27.59" r="9.82" fill="url(#bg)" fill-opacity="0.6"/>
<circle cx="3.68" cy="33.11" r="9.17" fill="url(#bg)" fill-opacity="0.6"/>
<circle cx="16.56" cy="34.03" r="9.17" fill="url(#bg)" fill-opacity="0.45"/>
<circle cx="109.46" cy="66.23" r="6.55" fill="url(#bg)" fill-opacity="0.5"/>
<circle cx="0.92" cy="90.14" r="7.86" fill="url(#bg)" fill-opacity="0.6"/>
<circle cx="5.52" cy="108.90" r="6.55" fill="url(#bg)" fill-opacity="0.5"/>
<rect x="95.66" y="44.33" width="17.48" height="11.22" fill="#fff" fill-opacity="1.0"/>
<circle cx="98.05" cy="49.85" r="5.70" fill="#fff" fill-opacity="1.0"/>
</g>
<rect x="97.4" y="44.2" width="20" height="11.4" rx="4.5" fill="#fffdf4" filter="url(#soft)"/>
<rect x="4.2" y="104.8" width="22.4" height="3.4" fill="#fff"/>
</svg></g>
<rect x="515.6" y="60.2" width="12.4" height="72.4" fill="url(#cbar)" stroke="#333" stroke-width="0.7"/>
<line x1="513.4" y1="72.3" x2="515.6" y2="72.3" stroke="#222" stroke-width="0.7"/>
<line x1="513.4" y1="87.3" x2="515.6" y2="87.3" stroke="#222" stroke-width="0.7"/>
<line x1="513.4" y1="102.3" x2="515.6" y2="102.3" stroke="#222" stroke-width="0.7"/>
<line x1="513.4" y1="117.3" x2="515.6" y2="117.3" stroke="#222" stroke-width="0.7"/>
<line x1="513.4" y1="132.3" x2="515.6" y2="132.3" stroke="#222" stroke-width="0.7"/>
<text x="511.2" y="76.1" font-size="10.5" text-anchor="end" font-weight="normal" fill="#1a1a1a">8</text>
<text x="511.2" y="136.0" font-size="10.5" text-anchor="end" font-weight="normal" fill="#1a1a1a">0</text>
<text x="502.0" y="96.5" font-size="10.5" text-anchor="middle" font-weight="normal" fill="#1a1a1a" transform="rotate(-90 502.0 96.5)">nm</text>
<rect x="118.4" y="150.8" width="13.2" height="9.4" fill="url(#dots)" stroke="#333" stroke-width="0.7"/>
<rect x="118.1" y="165.5" width="13.8" height="10.2" fill="#0a0a0a"/>
<text x="137.0" y="159.7" font-size="11.8" text-anchor="start" font-weight="normal" fill="#1a1a1a">Open ring</text>
<text x="137.0" y="175.1" font-size="11.8" text-anchor="start" font-weight="normal" fill="#1a1a1a">Closed ring</text>
<rect x="68.4" y="186.8" width="20.60" height="76.43" fill="url(#dots)" stroke="#4a4a4a" stroke-width="0.8"/>
<rect x="68.4" y="263.23" width="20.60" height="67.77" fill="#000"/>
<rect x="114.0" y="186.8" width="20.50" height="42.68" fill="url(#dots)" stroke="#4a4a4a" stroke-width="0.8"/>
<rect x="114.0" y="229.48" width="20.50" height="101.52" fill="#000"/>
<rect x="160.0" y="186.8" width="20.60" height="38.50" fill="url(#dots)" stroke="#4a4a4a" stroke-width="0.8"/>
<rect x="160.0" y="225.30" width="20.60" height="105.70" fill="#000"/>
<line x1="62.55" y1="186.4" x2="62.55" y2="331.4" stroke="#1a1a1a" stroke-width="0.9"/>
<line x1="62.15" y1="331.0" x2="181.2" y2="331.0" stroke="#1a1a1a" stroke-width="0.9"/>
<line x1="58.55" y1="331.0" x2="62.55" y2="331.0" stroke="#1a1a1a" stroke-width="0.9"/>
<text x="53.6" y="335.0" font-size="11.3" text-anchor="end" font-weight="normal" fill="#1a1a1a">0</text>
<line x1="58.55" y1="302.16" x2="62.55" y2="302.16" stroke="#1a1a1a" stroke-width="0.9"/>
<text x="53.6" y="306.16" font-size="11.3" text-anchor="end" font-weight="normal" fill="#1a1a1a">20</text>
<line x1="58.55" y1="273.32" x2="62.55" y2="273.32" stroke="#1a1a1a" stroke-width="0.9"/>
<text x="53.6" y="277.32" font-size="11.3" text-anchor="end" font-weight="normal" fill="#1a1a1a">40</text>
<line x1="58.55" y1="244.48000000000002" x2="62.55" y2="244.48000000000002" stroke="#1a1a1a" stroke-width="0.9"/>
<text x="53.6" y="248.48000000000002" font-size="11.3" text-anchor="end" font-weight="normal" fill="#1a1a1a">60</text>
<line x1="58.55" y1="215.64" x2="62.55" y2="215.64" stroke="#1a1a1a" stroke-width="0.9"/>
<text x="53.6" y="219.64" font-size="11.3" text-anchor="end" font-weight="normal" fill="#1a1a1a">80</text>
<line x1="58.55" y1="186.8" x2="62.55" y2="186.8" stroke="#1a1a1a" stroke-width="0.9"/>
<text x="53.6" y="190.8" font-size="11.3" text-anchor="end" font-weight="normal" fill="#1a1a1a">100</text>
<line x1="67.6" y1="331.0" x2="67.6" y2="335.2" stroke="#1a1a1a" stroke-width="0.9"/>
<line x1="90.2" y1="331.0" x2="90.2" y2="335.2" stroke="#1a1a1a" stroke-width="0.9"/>
<line x1="113.2" y1="331.0" x2="113.2" y2="335.2" stroke="#1a1a1a" stroke-width="0.9"/>
<line x1="135.8" y1="331.0" x2="135.8" y2="335.2" stroke="#1a1a1a" stroke-width="0.9"/>
<line x1="158.7" y1="331.0" x2="158.7" y2="335.2" stroke="#1a1a1a" stroke-width="0.9"/>
<line x1="181.3" y1="331.0" x2="181.3" y2="335.2" stroke="#1a1a1a" stroke-width="0.9"/>
<text x="24.9" y="258.4" font-size="11.6" text-anchor="middle" font-weight="normal" fill="#1a1a1a" transform="rotate(-90 24.9 258.4)">Ratio (%)</text>
<text x="83.89999999999999" y="340.1" font-size="12.0" text-anchor="end" font-weight="normal" fill="#1a1a1a" transform="rotate(-90 83.89999999999999 340.1)">2KT/AA</text>
<text x="129.8" y="340.1" font-size="12.0" text-anchor="end" font-weight="normal" fill="#1a1a1a" transform="rotate(-90 129.8 340.1)">1E/Q</text>
<text x="175.9" y="340.1" font-size="12.0" text-anchor="end" font-weight="normal" fill="#1a1a1a" transform="rotate(-90 175.9 340.1)">2E/Q</text>
<rect x="367.06" y="233.34" width="3.79" height="1.46" fill="#050505"/>
<rect x="370.31" y="231.88" width="3.79" height="2.92" fill="#050505"/>
<rect x="373.55" y="228.96" width="3.79" height="5.84" fill="#050505"/>
<rect x="376.80" y="224.10" width="3.79" height="10.70" fill="#050505"/>
<rect x="380.04" y="219.24" width="3.79" height="15.56" fill="#050505"/>
<rect x="383.29" y="216.32" width="3.79" height="18.48" fill="#050505"/>
<rect x="386.53" y="216.32" width="3.79" height="18.48" fill="#050505"/>
<rect x="389.78" y="216.80" width="3.79" height="18.00" fill="#050505"/>
<rect x="393.02" y="215.34" width="3.79" height="19.46" fill="#050505"/>
<rect x="396.27" y="212.43" width="3.79" height="22.37" fill="#050505"/>
<rect x="399.51" y="209.51" width="3.79" height="25.29" fill="#050505"/>
<rect x="402.76" y="207.08" width="3.79" height="27.72" fill="#050505"/>
<rect x="406.00" y="205.62" width="3.79" height="29.18" fill="#050505"/>
<rect x="409.25" y="206.59" width="3.79" height="28.21" fill="#050505"/>
<rect x="412.50" y="204.64" width="3.79" height="30.16" fill="#050505"/>
<rect x="415.74" y="196.86" width="3.79" height="37.94" fill="#050505"/>
<rect x="418.99" y="196.86" width="3.79" height="37.94" fill="#050505"/>
<rect x="422.23" y="196.86" width="3.79" height="37.94" fill="#050505"/>
<rect x="425.47" y="200.75" width="3.79" height="34.05" fill="#050505"/>
<rect x="428.72" y="210.48" width="3.79" height="24.32" fill="#050505"/>
<rect x="431.96" y="212.43" width="3.79" height="22.37" fill="#050505"/>
<rect x="435.21" y="216.32" width="3.79" height="18.48" fill="#050505"/>
<rect x="438.45" y="221.18" width="3.79" height="13.62" fill="#050505"/>
<rect x="441.70" y="224.10" width="3.79" height="10.70" fill="#050505"/>
<rect x="444.94" y="225.07" width="3.79" height="9.73" fill="#050505"/>
<rect x="448.19" y="226.04" width="3.79" height="8.76" fill="#050505"/>
<rect x="451.43" y="228.96" width="3.79" height="5.84" fill="#050505"/>
<rect x="454.68" y="231.88" width="3.79" height="2.92" fill="#050505"/>
<rect x="457.92" y="233.83" width="3.79" height="0.97" fill="#050505"/>
<line x1="311.59999999999997" y1="161.44000000000003" x2="311.59999999999997" y2="235.20000000000002" stroke="#1a1a1a" stroke-width="0.9"/>
<line x1="307.29999999999995" y1="234.8" x2="311.59999999999997" y2="234.8" stroke="#1a1a1a" stroke-width="0.9"/>
<text x="302.4" y="238.9" font-size="11.6" text-anchor="end" font-weight="normal" fill="#1a1a1a">0.00</text>
<line x1="307.29999999999995" y1="210.48000000000002" x2="311.59999999999997" y2="210.48000000000002" stroke="#1a1a1a" stroke-width="0.9"/>
<text x="302.4" y="214.58" font-size="11.6" text-anchor="end" font-weight="normal" fill="#1a1a1a">0.05</text>
<line x1="307.29999999999995" y1="186.16000000000003" x2="311.59999999999997" y2="186.16000000000003" stroke="#1a1a1a" stroke-width="0.9"/>
<text x="302.4" y="190.26000000000002" font-size="11.6" text-anchor="end" font-weight="normal" fill="#1a1a1a">0.10</text>
<line x1="307.29999999999995" y1="161.84000000000003" x2="311.59999999999997" y2="161.84000000000003" stroke="#1a1a1a" stroke-width="0.9"/>
<text x="302.4" y="165.94000000000003" font-size="11.6" text-anchor="end" font-weight="normal" fill="#1a1a1a">0.15</text>
<polyline points="311.90,234.80 313.52,234.80 315.14,234.80 316.77,234.80 318.39,234.80 320.01,234.80 321.63,234.80 323.26,234.80 324.88,234.80 326.50,234.80 328.12,234.80 329.75,234.80 331.37,234.80 332.99,234.80 334.61,234.80 336.24,234.80 337.86,234.80 339.48,234.80 341.10,234.79 342.73,234.79 344.35,234.79 345.97,234.78 347.59,234.78 349.22,234.77 350.84,234.76 352.46,234.74 354.08,234.72 355.71,234.69 357.33,234.65 358.95,234.60 360.57,234.54 362.20,234.45 363.82,234.35 365.44,234.22 367.06,234.05 368.69,233.85 370.31,233.61 371.93,233.31 373.55,232.95 375.18,232.52 376.80,232.01 378.42,231.42 380.04,230.74 381.67,229.95 383.29,229.06 384.91,228.07 386.53,226.96 388.16,225.74 389.78,224.42 391.40,223.00 393.02,221.49 394.65,219.91 396.27,218.27 397.89,216.59 399.51,214.91 401.14,213.24 402.76,211.62 404.38,210.07 406.00,208.63 407.63,207.33 409.25,206.19 410.87,205.24 412.50,204.50 414.12,203.99 415.74,203.72 417.36,203.69 418.99,203.91 420.61,204.38 422.23,205.07 423.85,205.98 425.47,207.09 427.10,208.36 428.72,209.77 430.34,211.30 431.96,212.91 433.59,214.57 435.21,216.26 436.83,217.93 438.45,219.58 440.08,221.18 441.70,222.70 443.32,224.14 444.94,225.49 446.57,226.73 448.19,227.86 449.81,228.87 451.43,229.78 453.06,230.59 454.68,231.29 456.30,231.90 457.92,232.42 459.55,232.87 461.17,233.24 462.79,233.55 464.41,233.81 466.04,234.02 467.66,234.19 469.28,234.33 470.90,234.44 472.53,234.52 474.15,234.59 475.77,234.64 477.39,234.68 479.02,234.71 480.64,234.74 482.26,234.75 483.88,234.77 485.51,234.78 487.13,234.78 488.75,234.79 490.38,234.79 492.00,234.79 493.62,234.80 495.24,234.80 496.87,234.80 498.49,234.80 500.11,234.80 501.73,234.80 503.36,234.80 504.98,234.80 506.60,234.80" fill="none" stroke="#e6148c" stroke-width="1.9" stroke-linejoin="round"/>
<text x="317.2" y="174.2" font-size="11.9" fill="#1a1a1a">2KT/AA</text>
<rect x="367.06" y="321.84" width="3.79" height="1.46" fill="#050505"/>
<rect x="370.31" y="317.46" width="3.79" height="5.84" fill="#050505"/>
<rect x="373.55" y="306.28" width="3.79" height="17.02" fill="#050505"/>
<rect x="376.80" y="298.98" width="3.79" height="24.32" fill="#050505"/>
<rect x="380.04" y="288.28" width="3.79" height="35.02" fill="#050505"/>
<rect x="383.29" y="274.66" width="3.79" height="48.64" fill="#050505"/>
<rect x="386.53" y="268.82" width="3.79" height="54.48" fill="#050505"/>
<rect x="389.78" y="268.34" width="3.79" height="54.96" fill="#050505"/>
<rect x="393.02" y="270.77" width="3.79" height="52.53" fill="#050505"/>
<rect x="396.27" y="276.61" width="3.79" height="46.69" fill="#050505"/>
<rect x="399.51" y="289.25" width="3.79" height="34.05" fill="#050505"/>
<rect x="402.76" y="291.20" width="3.79" height="32.10" fill="#050505"/>
<rect x="406.00" y="302.87" width="3.79" height="20.43" fill="#050505"/>
<rect x="409.25" y="303.84" width="3.79" height="19.46" fill="#050505"/>
<rect x="412.50" y="312.60" width="3.79" height="10.70" fill="#050505"/>
<rect x="415.74" y="314.54" width="3.79" height="8.76" fill="#050505"/>
<rect x="418.99" y="319.41" width="3.79" height="3.89" fill="#050505"/>
<rect x="422.23" y="318.44" width="3.79" height="4.86" fill="#050505"/>
<rect x="425.47" y="313.57" width="3.79" height="9.73" fill="#050505"/>
<rect x="428.72" y="322.33" width="3.79" height="0.97" fill="#050505"/>
<rect x="444.94" y="322.33" width="3.79" height="0.97" fill="#050505"/>
<line x1="311.59999999999997" y1="249.94000000000003" x2="311.59999999999997" y2="323.7" stroke="#1a1a1a" stroke-width="0.9"/>
<line x1="307.29999999999995" y1="323.3" x2="311.59999999999997" y2="323.3" stroke="#1a1a1a" stroke-width="0.9"/>
<text x="302.4" y="327.40000000000003" font-size="11.6" text-anchor="end" font-weight="normal" fill="#1a1a1a">0.00</text>
<line x1="307.29999999999995" y1="298.98" x2="311.59999999999997" y2="298.98" stroke="#1a1a1a" stroke-width="0.9"/>
<text x="302.4" y="303.08000000000004" font-size="11.6" text-anchor="end" font-weight="normal" fill="#1a1a1a">0.05</text>
<line x1="307.29999999999995" y1="274.66" x2="311.59999999999997" y2="274.66" stroke="#1a1a1a" stroke-width="0.9"/>
<text x="302.4" y="278.76000000000005" font-size="11.6" text-anchor="end" font-weight="normal" fill="#1a1a1a">0.10</text>
<line x1="307.29999999999995" y1="250.34000000000003" x2="311.59999999999997" y2="250.34000000000003" stroke="#1a1a1a" stroke-width="0.9"/>
<text x="302.4" y="254.44000000000003" font-size="11.6" text-anchor="end" font-weight="normal" fill="#1a1a1a">0.15</text>
<line x1="311.2" y1="323.3" x2="507.0" y2="323.3" stroke="#1a1a1a" stroke-width="0.9"/>
<line x1="311.9" y1="323.3" x2="311.9" y2="327.5" stroke="#1a1a1a" stroke-width="0.9"/>
<text x="311.9" y="342.7" font-size="11.6" text-anchor="middle" font-weight="normal" fill="#1a1a1a">10</text>
<line x1="344.34999999999997" y1="323.3" x2="344.34999999999997" y2="327.5" stroke="#1a1a1a" stroke-width="0.9"/>
<text x="344.34999999999997" y="342.7" font-size="11.6" text-anchor="middle" font-weight="normal" fill="#1a1a1a">20</text>
<line x1="376.79999999999995" y1="323.3" x2="376.79999999999995" y2="327.5" stroke="#1a1a1a" stroke-width="0.9"/>
<text x="376.79999999999995" y="342.7" font-size="11.6" text-anchor="middle" font-weight="normal" fill="#1a1a1a">30</text>
<line x1="409.25" y1="323.3" x2="409.25" y2="327.5" stroke="#1a1a1a" stroke-width="0.9"/>
<text x="409.25" y="342.7" font-size="11.6" text-anchor="middle" font-weight="normal" fill="#1a1a1a">40</text>
<line x1="441.7" y1="323.3" x2="441.7" y2="327.5" stroke="#1a1a1a" stroke-width="0.9"/>
<text x="441.7" y="342.7" font-size="11.6" text-anchor="middle" font-weight="normal" fill="#1a1a1a">50</text>
<line x1="474.15" y1="323.3" x2="474.15" y2="327.5" stroke="#1a1a1a" stroke-width="0.9"/>
<text x="474.15" y="342.7" font-size="11.6" text-anchor="middle" font-weight="normal" fill="#1a1a1a">60</text>
<line x1="506.6" y1="323.3" x2="506.6" y2="327.5" stroke="#1a1a1a" stroke-width="0.9"/>
<text x="506.6" y="342.7" font-size="11.6" text-anchor="middle" font-weight="normal" fill="#1a1a1a">70</text>
<polyline points="311.90,323.30 313.52,323.30 315.14,323.30 316.77,323.30 318.39,323.30 320.01,323.30 321.63,323.30 323.26,323.30 324.88,323.30 326.50,323.30 328.12,323.30 329.75,323.30 331.37,323.30 332.99,323.30 334.61,323.30 336.24,323.30 337.86,323.30 339.48,323.30 341.10,323.30 342.73,323.30 344.35,323.30 345.97,323.30 347.59,323.29 349.22,323.29 350.84,323.28 352.46,323.26 354.08,323.23 355.71,323.18 357.33,323.11 358.95,322.98 360.57,322.79 362.20,322.51 363.82,322.09 365.44,321.49 367.06,320.66 368.69,319.53 370.31,318.04 371.93,316.11 373.55,313.70 375.18,310.76 376.80,307.27 378.42,303.27 380.04,298.83 381.67,294.06 383.29,289.12 384.91,284.23 386.53,279.63 388.16,275.56 389.78,272.26 391.40,269.93 393.02,268.73 394.65,268.73 396.27,269.93 397.89,272.26 399.51,275.56 401.14,279.63 402.76,284.23 404.38,289.12 406.00,294.06 407.63,298.83 409.25,303.27 410.87,307.27 412.50,310.76 414.12,313.70 415.74,316.11 417.36,318.04 418.99,319.53 420.61,320.66 422.23,321.49 423.85,322.09 425.47,322.51 427.10,322.79 428.72,322.98 430.34,323.11 431.96,323.18 433.59,323.23 435.21,323.26 436.83,323.28 438.45,323.29 440.08,323.29 441.70,323.30 443.32,323.30 444.94,323.30 446.57,323.30 448.19,323.30 449.81,323.30 451.43,323.30 453.06,323.30 454.68,323.30 456.30,323.30 457.92,323.30 459.55,323.30 461.17,323.30 462.79,323.30 464.41,323.30 466.04,323.30 467.66,323.30 469.28,323.30 470.90,323.30 472.53,323.30 474.15,323.30 475.77,323.30 477.39,323.30 479.02,323.30 480.64,323.30 482.26,323.30 483.88,323.30 485.51,323.30 487.13,323.30 488.75,323.30 490.38,323.30 492.00,323.30 493.62,323.30 495.24,323.30 496.87,323.30 498.49,323.30 500.11,323.30 501.73,323.30 503.36,323.30 504.98,323.30 506.60,323.30" fill="none" stroke="#e6148c" stroke-width="1.9" stroke-linejoin="round"/>
<text x="317.6" y="269.3" font-size="11.6" fill="#1a1a1a">ΔN-<tspan font-style="italic">T</tspan>ClpB</text>
<text x="266.4" y="240.8" font-size="11.7" text-anchor="middle" font-weight="normal" fill="#1a1a1a" transform="rotate(-90 266.4 240.8)">Normalized count</text>
<text x="409.8" y="360.8" font-size="11.7" text-anchor="middle" font-weight="normal" fill="#1a1a1a">Contour length (nm)</text>
<rect x="37.2" y="401.4" width="456.4" height="190.2" fill="#060402"/>
<g transform="translate(37.20 401.4)"><svg width="57.05" height="60.1" viewBox="0 0 57.05 60.1" overflow="hidden">
<g filter="url(#afmd)"><rect x="-5" y="-5" width="70" height="70.1" fill="#000"/>
<ellipse cx="28.60" cy="29.80" rx="15.59" ry="12.52" fill="#fff" fill-opacity="0.1" stroke="#fff" stroke-opacity="0.585" stroke-width="15.90" transform="rotate(0 28.60 29.80)"/>
<circle cx="18.85" cy="20.51" r="8.46" fill="url(#bg)" fill-opacity="0.36408784339943523"/>
<circle cx="34.99" cy="18.80" r="8.46" fill="url(#bg)" fill-opacity="0.34899231090400107"/>
<circle cx="43.72" cy="28.61" r="8.46" fill="url(#bg)" fill-opacity="0.15491842732142683"/>
<circle cx="39.63" cy="38.13" r="8.46" fill="url(#bg)" fill-opacity="0.4045363837405397"/>
<circle cx="23.95" cy="41.34" r="8.46" fill="url(#bg)" fill-opacity="0.39294583424792"/>
<circle cx="14.84" cy="34.93" r="8.46" fill="url(#bg)" fill-opacity="0.2750558500445307"/>
<circle cx="42.00" cy="24.00" r="7.25" fill="url(#bg)" fill-opacity="0.595"/>
<circle cx="14.00" cy="36.00" r="7.25" fill="url(#bg)" fill-opacity="0.425"/>
<rect x="1.50" y="8.00" width="1.60" height="44.00" fill="#fff" fill-opacity="0.5"/>
</g></svg></g>
<text x="42.5" y="413.2" font-size="10.6" text-anchor="start" font-weight="normal" fill="#fff">0.0 s</text>
<g transform="translate(94.25 401.4)"><svg width="57.05" height="60.1" viewBox="0 0 57.05 60.1" overflow="hidden">
<g filter="url(#afmd)"><rect x="-5" y="-5" width="70" height="70.1" fill="#000"/>
<ellipse cx="30.30" cy="31.20" rx="15.83" ry="12.74" fill="#fff" fill-opacity="0.1" stroke="#fff" stroke-opacity="0.585" stroke-width="17.45" transform="rotate(0 30.30 31.20)"/>
<circle cx="30.35" cy="43.54" r="9.28" fill="url(#bg)" fill-opacity="0.3036859443043715"/>
<circle cx="19.00" cy="39.60" r="9.28" fill="url(#bg)" fill-opacity="0.20616723552663055"/>
<circle cx="16.15" cy="26.29" r="9.28" fill="url(#bg)" fill-opacity="0.39716228650373464"/>
<circle cx="31.68" cy="18.91" r="9.28" fill="url(#bg)" fill-opacity="0.19057194997374444"/>
<circle cx="44.38" cy="26.16" r="9.28" fill="url(#bg)" fill-opacity="0.18488350522290056"/>
<circle cx="43.44" cy="37.66" r="9.28" fill="url(#bg)" fill-opacity="0.18158889048622362"/>
<circle cx="40.00" cy="25.00" r="8.70" fill="url(#bg)" fill-opacity="0.68"/>
<circle cx="38.00" cy="20.00" r="5.80" fill="url(#bg)" fill-opacity="0.51"/>
<ellipse cx="31.00" cy="30.00" rx="7.00" ry="3.50" fill="#000" fill-opacity="0.7" transform="rotate(20 31.00 30.00)"/>
<ellipse cx="3.00" cy="44.00" rx="7.00" ry="8.00" fill="#000" fill-opacity="0.8" transform="rotate(0 3.00 44.00)"/>
</g></svg></g>
<text x="99.1" y="413.2" font-size="10.6" text-anchor="start" font-weight="normal" fill="#fff">0.9 s</text>
<g transform="translate(151.30 401.4)"><svg width="57.05" height="60.1" viewBox="0 0 57.05 60.1" overflow="hidden">
<g filter="url(#afmd)"><rect x="-5" y="-5" width="70" height="70.1" fill="#000"/>
<ellipse cx="28.90" cy="29.40" rx="15.79" ry="12.98" fill="#fff" fill-opacity="0.1" stroke="#fff" stroke-opacity="0.585" stroke-width="15.76" transform="rotate(0 28.90 29.40)"/>
<circle cx="44.08" cy="31.49" r="8.39" fill="url(#bg)" fill-opacity="0.20418159242116718"/>
<circle cx="37.99" cy="39.55" r="8.39" fill="url(#bg)" fill-opacity="0.4152009627094776"/>
<circle cx="19.09" cy="39.10" r="8.39" fill="url(#bg)" fill-opacity="0.22598031079491093"/>
<circle cx="13.83" cy="26.85" r="8.39" fill="url(#bg)" fill-opacity="0.29420800700173133"/>
<circle cx="22.37" cy="18.01" r="8.39" fill="url(#bg)" fill-opacity="0.20290480746772543"/>
<circle cx="39.04" cy="19.94" r="8.39" fill="url(#bg)" fill-opacity="0.33554524992218593"/>
<circle cx="41.00" cy="25.00" r="5.80" fill="url(#bg)" fill-opacity="0.51"/>
<circle cx="14.00" cy="38.00" r="5.80" fill="url(#bg)" fill-opacity="0.51"/>
<circle cx="30.00" cy="16.00" r="5.80" fill="url(#bg)" fill-opacity="0.425"/>
</g></svg></g>
<text x="155.7" y="413.2" font-size="10.6" text-anchor="start" font-weight="normal" fill="#fff">2.5 s</text>
<g transform="translate(208.35 401.4)"><svg width="57.05" height="60.1" viewBox="0 0 57.05 60.1" overflow="hidden">
<g filter="url(#afmd)"><rect x="-5" y="-5" width="70" height="70.1" fill="#000"/>
<ellipse cx="28.10" cy="30.00" rx="16.30" ry="12.94" fill="#fff" fill-opacity="0.1" stroke="#fff" stroke-opacity="0.585" stroke-width="17.33" transform="rotate(0 28.10 30.00)"/>
<circle cx="43.98" cy="29.43" r="9.22" fill="url(#bg)" fill-opacity="0.2285693691141059"/>
<circle cx="39.42" cy="38.81" r="9.22" fill="url(#bg)" fill-opacity="0.19230600359642053"/>
<circle cx="25.49" cy="42.37" r="9.22" fill="url(#bg)" fill-opacity="0.16478314175155961"/>
<circle cx="12.88" cy="33.62" r="9.22" fill="url(#bg)" fill-opacity="0.31164902929228966"/>
<circle cx="15.24" cy="22.62" r="9.22" fill="url(#bg)" fill-opacity="0.3320760501265197"/>
<circle cx="31.97" cy="17.84" r="9.22" fill="url(#bg)" fill-opacity="0.23161851532765415"/>
<circle cx="41.00" cy="24.00" r="7.25" fill="url(#bg)" fill-opacity="0.51"/>
<circle cx="12.00" cy="32.00" r="7.25" fill="url(#bg)" fill-opacity="0.51"/>
<circle cx="20.00" cy="42.00" r="5.80" fill="url(#bg)" fill-opacity="0.425"/>
</g></svg></g>
<text x="212.5" y="413.2" font-size="10.6" text-anchor="start" font-weight="normal" fill="#fff">4.8 s</text>
<g transform="translate(265.40 401.4)"><svg width="57.05" height="60.1" viewBox="0 0 57.05 60.1" overflow="hidden">
<g filter="url(#afmd)"><rect x="-5" y="-5" width="70" height="70.1" fill="#000"/>
<ellipse cx="26.80" cy="30.20" rx="15.72" ry="12.92" fill="#fff" fill-opacity="0.1" stroke="#fff" stroke-opacity="0.51" stroke-width="14.89" transform="rotate(0 26.80 30.20)"/>
<circle cx="33.08" cy="18.78" r="7.92" fill="url(#bg)" fill-opacity="0.23321151789607922"/>
<circle cx="42.04" cy="28.94" r="7.92" fill="url(#bg)" fill-opacity="0.33937467362046825"/>
<circle cx="37.81" cy="38.90" r="7.92" fill="url(#bg)" fill-opacity="0.4132021807383762"/>
<circle cx="23.30" cy="42.39" r="7.92" fill="url(#bg)" fill-opacity="0.3516940410855176"/>
<circle cx="11.50" cy="29.56" r="7.92" fill="url(#bg)" fill-opacity="0.1519324371583387"/>
<circle cx="19.51" cy="19.19" r="7.92" fill="url(#bg)" fill-opacity="0.24696836190482793"/>
<circle cx="38.00" cy="35.50" r="7.25" fill="url(#bg)" fill-opacity="0.765"/>
<circle cx="20.00" cy="44.50" r="7.25" fill="url(#bg)" fill-opacity="0.595"/>
<ellipse cx="47.00" cy="44.00" rx="7.00" ry="6.00" fill="#000" fill-opacity="0.6" transform="rotate(0 47.00 44.00)"/>
</g></svg></g>
<text x="268.5" y="413.2" font-size="10.6" text-anchor="start" font-weight="normal" fill="#fff">6.4 s</text>
<g transform="translate(322.45 401.4)"><svg width="57.05" height="60.1" viewBox="0 0 57.05 60.1" overflow="hidden">
<g filter="url(#afmd)"><rect x="-5" y="-5" width="70" height="70.1" fill="#000"/>
<ellipse cx="25.00" cy="30.20" rx="16.97" ry="13.34" fill="#fff" fill-opacity="0.1" stroke="#fff" stroke-opacity="0.53" stroke-width="16.83" transform="rotate(0 25.00 30.20)"/>
<circle cx="9.11" cy="26.53" r="8.95" fill="url(#bg)" fill-opacity="0.15975650340481104"/>
<circle cx="22.30" cy="17.44" r="8.95" fill="url(#bg)" fill-opacity="0.4077641125883884"/>
<circle cx="37.87" cy="22.06" r="8.95" fill="url(#bg)" fill-opacity="0.35331604059920974"/>
<circle cx="37.95" cy="38.27" r="8.95" fill="url(#bg)" fill-opacity="0.40417796543376194"/>
<circle cx="26.58" cy="43.08" r="8.95" fill="url(#bg)" fill-opacity="0.24385854498081005"/>
<circle cx="10.82" cy="36.89" r="8.95" fill="url(#bg)" fill-opacity="0.3587396230128257"/>
<circle cx="37.00" cy="35.50" r="7.25" fill="url(#bg)" fill-opacity="0.765"/>
<circle cx="20.00" cy="43.50" r="7.25" fill="url(#bg)" fill-opacity="0.595"/>
<rect x="0.00" y="10.00" width="9.00" height="36.00" fill="#fff" fill-opacity="0.38"/>
</g></svg></g>
<text x="323.0" y="413.2" font-size="10.6" text-anchor="start" font-weight="normal" fill="#fff">7.2 s</text>
<g transform="translate(379.50 401.4)"><svg width="57.05" height="60.1" viewBox="0 0 57.05 60.1" overflow="hidden">
<g filter="url(#afmd)"><rect x="-5" y="-5" width="70" height="70.1" fill="#000"/>
<ellipse cx="26.40" cy="30.80" rx="16.20" ry="12.58" fill="#fff" fill-opacity="0.1" stroke="#fff" stroke-opacity="0.64" stroke-width="17.28" transform="rotate(0 26.40 30.80)"/>
<circle cx="37.60" cy="39.39" r="9.19" fill="url(#bg)" fill-opacity="0.36464288298243386"/>
<circle cx="21.64" cy="42.41" r="9.19" fill="url(#bg)" fill-opacity="0.1570004213243919"/>
<circle cx="10.86" cy="33.00" r="9.19" fill="url(#bg)" fill-opacity="0.17189210291889281"/>
<circle cx="13.47" cy="23.80" r="9.19" fill="url(#bg)" fill-opacity="0.3137559178992864"/>
<circle cx="31.53" cy="19.28" r="9.19" fill="url(#bg)" fill-opacity="0.23980895076885558"/>
<circle cx="41.91" cy="28.49" r="9.19" fill="url(#bg)" fill-opacity="0.29582432212781923"/>
<circle cx="36.00" cy="22.00" r="8.70" fill="url(#bg)" fill-opacity="0.595"/>
<circle cx="12.00" cy="34.00" r="8.70" fill="url(#bg)" fill-opacity="0.595"/>
<circle cx="22.00" cy="45.00" r="7.25" fill="url(#bg)" fill-opacity="0.51"/>
<circle cx="40.00" cy="38.00" r="7.25" fill="url(#bg)" fill-opacity="0.51"/>
<rect x="-1.00" y="18.00" width="2.50" height="30.00" fill="#fff" fill-opacity="0.5"/>
<rect x="53.50" y="44.00" width="2.00" height="10.00" fill="#fff" fill-opacity="0.5"/>
</g></svg></g>
<text x="378.8" y="413.2" font-size="10.6" text-anchor="start" font-weight="normal" fill="#fff">11.0 s</text>
<g transform="translate(436.55 401.4)"><svg width="57.05" height="60.1" viewBox="0 0 57.05 60.1" overflow="hidden">
<g filter="url(#afmd)"><rect x="-5" y="-5" width="70" height="70.1" fill="#000"/>
<ellipse cx="25.60" cy="30.80" rx="16.87" ry="13.49" fill="#fff" fill-opacity="0.1" stroke="#fff" stroke-opacity="0.6" stroke-width="17.26" transform="rotate(0 25.60 30.80)"/>
<circle cx="20.49" cy="43.25" r="9.18" fill="url(#bg)" fill-opacity="0.19545143271286186"/>
<circle cx="9.90" cy="34.77" r="9.18" fill="url(#bg)" fill-opacity="0.18764097618214684"/>
<circle cx="16.64" cy="19.82" r="9.18" fill="url(#bg)" fill-opacity="0.4191064203685202"/>
<circle cx="29.68" cy="18.12" r="9.18" fill="url(#bg)" fill-opacity="0.16025474064872855"/>
<circle cx="42.03" cy="31.75" r="9.18" fill="url(#bg)" fill-opacity="0.29265389239150774"/>
<circle cx="36.14" cy="40.86" r="9.18" fill="url(#bg)" fill-opacity="0.21179289285222044"/>
<circle cx="40.00" cy="25.00" r="8.70" fill="url(#bg)" fill-opacity="0.85"/>
<circle cx="12.00" cy="36.00" r="7.25" fill="url(#bg)" fill-opacity="0.51"/>
<circle cx="20.00" cy="44.00" r="7.25" fill="url(#bg)" fill-opacity="0.51"/>
<rect x="-1.00" y="8.00" width="2.80" height="38.00" fill="#fff" fill-opacity="0.6"/>
<rect x="51.50" y="40.00" width="2.00" height="14.00" fill="#fff" fill-opacity="0.6"/>
</g></svg></g>
<text x="435.8" y="413.2" font-size="10.6" text-anchor="start" font-weight="normal" fill="#fff">13.2 s</text>
<g transform="translate(37.20 463.0)"><svg width="57.05" height="60.8" viewBox="0 0 57.05 60.8" overflow="hidden">
<g filter="url(#afmd)"><rect x="-5" y="-5" width="70" height="70.8" fill="#000"/>
<ellipse cx="30.30" cy="34.30" rx="13.58" ry="11.47" fill="#fff" fill-opacity="0.3" stroke="#fff" stroke-opacity="0.585" stroke-width="16.02" transform="rotate(0 30.30 34.30)"/>
<circle cx="20.45" cy="26.94" r="8.52" fill="url(#bg)" fill-opacity="0.2713965727069515"/>
<circle cx="30.75" cy="23.24" r="8.52" fill="url(#bg)" fill-opacity="0.1622080740651549"/>
<circle cx="42.96" cy="31.21" r="8.52" fill="url(#bg)" fill-opacity="0.1559328930516123"/>
<circle cx="41.27" cy="40.44" r="8.52" fill="url(#bg)" fill-opacity="0.3758911937589001"/>
<circle cx="31.46" cy="45.32" r="8.52" fill="url(#bg)" fill-opacity="0.3467443875818327"/>
<circle cx="17.59" cy="37.23" r="8.52" fill="url(#bg)" fill-opacity="0.31909900710540573"/>
<circle cx="22.00" cy="26.00" r="7.25" fill="url(#bg)" fill-opacity="0.34"/>
<rect x="45.50" y="12.00" width="12.00" height="12.00" fill="#fff" fill-opacity="0.82"/>
<rect x="1.00" y="53.50" width="24.00" height="5.00" fill="#fff" fill-opacity="0.7"/>
<rect x="46.00" y="51.00" width="11.00" height="7.00" fill="#fff" fill-opacity="0.5"/>
</g></svg></g>
<text x="42.5" y="474.8" font-size="10.6" text-anchor="start" font-weight="normal" fill="#fff">0.0 s</text>
<g transform="translate(94.25 463.0)"><svg width="57.05" height="60.8" viewBox="0 0 57.05 60.8" overflow="hidden">
<g filter="url(#afmd)"><rect x="-5" y="-5" width="70" height="70.8" fill="#000"/>
<ellipse cx="30.00" cy="34.30" rx="15.10" ry="11.62" fill="#fff" fill-opacity="0.3" stroke="#fff" stroke-opacity="0.585" stroke-width="17.98" transform="rotate(0 30.00 34.30)"/>
<circle cx="31.09" cy="23.11" r="9.56" fill="url(#bg)" fill-opacity="0.2656335670339193"/>
<circle cx="43.35" cy="29.60" r="9.56" fill="url(#bg)" fill-opacity="0.37761235388246406"/>
<circle cx="41.46" cy="41.33" r="9.56" fill="url(#bg)" fill-opacity="0.2707112913854935"/>
<circle cx="23.63" cy="44.42" r="9.56" fill="url(#bg)" fill-opacity="0.37966497915399183"/>
<circle cx="15.35" cy="35.26" r="9.56" fill="url(#bg)" fill-opacity="0.2708164171585132"/>
<circle cx="19.32" cy="26.59" r="9.56" fill="url(#bg)" fill-opacity="0.3461548703963512"/>
<circle cx="20.70" cy="24.20" r="8.70" fill="url(#bg)" fill-opacity="0.85"/>
<circle cx="22.00" cy="26.00" r="5.80" fill="url(#bg)" fill-opacity="0.425"/>
<rect x="27.00" y="12.00" width="30.00" height="6.50" fill="#fff" fill-opacity="0.56"/>
<rect x="0.00" y="49.00" width="9.00" height="9.00" fill="#fff" fill-opacity="0.55"/>
<ellipse cx="42.00" cy="24.00" rx="9.00" ry="2.50" fill="#000" fill-opacity="0.5" transform="rotate(-25 42.00 24.00)"/>
</g></svg></g>
<text x="99.1" y="474.8" font-size="10.6" text-anchor="start" font-weight="normal" fill="#fff">2.0 s</text>
<g transform="translate(151.30 463.0)"><svg width="57.05" height="60.8" viewBox="0 0 57.05 60.8" overflow="hidden">
<g filter="url(#afmd)"><rect x="-5" y="-5" width="70" height="70.8" fill="#000"/>
<ellipse cx="28.10" cy="33.30" rx="13.78" ry="11.41" fill="#fff" fill-opacity="0.2" stroke="#fff" stroke-opacity="0.585" stroke-width="15.41" transform="rotate(0 28.10 33.30)"/>
<circle cx="15.04" cy="35.69" r="8.19" fill="url(#bg)" fill-opacity="0.2572345103562467"/>
<circle cx="18.47" cy="25.66" r="8.19" fill="url(#bg)" fill-opacity="0.24992120414540928"/>
<circle cx="35.62" cy="24.19" r="8.19" fill="url(#bg)" fill-opacity="0.40902973619084937"/>
<circle cx="41.44" cy="32.44" r="8.19" fill="url(#bg)" fill-opacity="0.2833150290318512"/>
<circle cx="36.95" cy="41.56" r="8.19" fill="url(#bg)" fill-opacity="0.17133451464234536"/>
<circle cx="24.19" cy="43.83" r="8.19" fill="url(#bg)" fill-opacity="0.3604911790984231"/>
<circle cx="23.00" cy="22.00" r="7.25" fill="url(#bg)" fill-opacity="0.68"/>
<circle cx="33.00" cy="43.00" r="5.80" fill="url(#bg)" fill-opacity="0.51"/>
<rect x="43.00" y="12.00" width="14.00" height="8.00" fill="#fff" fill-opacity="0.6"/>
<rect x="0.00" y="47.50" width="17.00" height="10.00" fill="#fff" fill-opacity="0.66"/>
<rect x="46.00" y="51.00" width="11.00" height="7.00" fill="#fff" fill-opacity="0.55"/>
</g></svg></g>
<text x="155.7" y="474.8" font-size="10.6" text-anchor="start" font-weight="normal" fill="#fff">3.2 s</text>
<g transform="translate(208.35 463.0)"><svg width="57.05" height="60.8" viewBox="0 0 57.05 60.8" overflow="hidden">
<g filter="url(#afmd)"><rect x="-5" y="-5" width="70" height="70.8" fill="#000"/>
<ellipse cx="27.20" cy="33.30" rx="14.25" ry="10.58" fill="#fff" fill-opacity="0.1" stroke="#fff" stroke-opacity="0.56" stroke-width="14.32" transform="rotate(0 27.20 33.30)"/>
<circle cx="35.90" cy="25.38" r="7.62" fill="url(#bg)" fill-opacity="0.3615841642400357"/>
<circle cx="40.31" cy="36.59" r="7.62" fill="url(#bg)" fill-opacity="0.3366249126000942"/>
<circle cx="30.50" cy="43.19" r="7.62" fill="url(#bg)" fill-opacity="0.3543813750479806"/>
<circle cx="18.49" cy="41.21" r="7.62" fill="url(#bg)" fill-opacity="0.33932019370382993"/>
<circle cx="13.45" cy="32.06" r="7.62" fill="url(#bg)" fill-opacity="0.2795920661040124"/>
<circle cx="24.49" cy="23.32" r="7.62" fill="url(#bg)" fill-opacity="0.33561104708510625"/>
<circle cx="36.00" cy="37.00" r="7.25" fill="url(#bg)" fill-opacity="0.595"/>
<circle cx="17.00" cy="28.00" r="5.80" fill="url(#bg)" fill-opacity="0.425"/>
<ellipse cx="24.45" cy="45.30" rx="10.62" ry="2.20" fill="#000" fill-opacity="0.85" transform="rotate(100 24.45 45.30)"/>
<rect x="25.00" y="53.00" width="18.00" height="2.40" fill="#fff" fill-opacity="0.4"/>
<ellipse cx="6.00" cy="30.00" rx="4.00" ry="8.00" fill="#000" fill-opacity="0.6" transform="rotate(0 6.00 30.00)"/>
</g></svg></g>
<text x="212.5" y="474.8" font-size="10.6" text-anchor="start" font-weight="normal" fill="#fff">8.3 s</text>
<g transform="translate(265.40 463.0)"><svg width="57.05" height="60.8" viewBox="0 0 57.05 60.8" overflow="hidden">
<g filter="url(#afmd)"><rect x="-5" y="-5" width="70" height="70.8" fill="#000"/>
<ellipse cx="26.00" cy="34.30" rx="15.70" ry="12.48" fill="#fff" fill-opacity="0.1" stroke="#fff" stroke-opacity="0.585" stroke-width="17.09" transform="rotate(0 26.00 34.30)"/>
<circle cx="19.18" cy="45.11" r="9.09" fill="url(#bg)" fill-opacity="0.32436595675923885"/>
<circle cx="11.05" cy="36.87" r="9.09" fill="url(#bg)" fill-opacity="0.15016151936713568"/>
<circle cx="15.55" cy="25.48" r="9.09" fill="url(#bg)" fill-opacity="0.21543899463096294"/>
<circle cx="31.21" cy="22.94" r="9.09" fill="url(#bg)" fill-opacity="0.2733823439616683"/>
<circle cx="41.20" cy="32.91" r="9.09" fill="url(#bg)" fill-opacity="0.32375028576629766"/>
<circle cx="35.22" cy="43.94" r="9.09" fill="url(#bg)" fill-opacity="0.24197247069156208"/>
<circle cx="11.00" cy="34.00" r="8.70" fill="url(#bg)" fill-opacity="0.85"/>
<circle cx="23.00" cy="23.00" r="7.25" fill="url(#bg)" fill-opacity="0.68"/>
<circle cx="32.00" cy="44.00" r="5.80" fill="url(#bg)" fill-opacity="0.51"/>
<rect x="0.00" y="49.00" width="14.00" height="9.00" fill="#fff" fill-opacity="0.66"/>
</g></svg></g>
<text x="268.5" y="474.8" font-size="10.6" text-anchor="start" font-weight="normal" fill="#fff">8.7 s</text>
<g transform="translate(322.45 463.0)"><svg width="57.05" height="60.8" viewBox="0 0 57.05 60.8" overflow="hidden">
<g filter="url(#afmd)"><rect x="-5" y="-5" width="70" height="70.8" fill="#000"/>
<ellipse cx="27.20" cy="34.50" rx="13.61" ry="11.51" fill="#fff" fill-opacity="0.1" stroke="#fff" stroke-opacity="0.585" stroke-width="14.96" transform="rotate(0 27.20 34.50)"/>
<circle cx="20.12" cy="25.12" r="7.96" fill="url(#bg)" fill-opacity="0.37309550643348727"/>
<circle cx="31.34" cy="23.95" r="7.96" fill="url(#bg)" fill-opacity="0.3771061273074533"/>
<circle cx="40.41" cy="34.64" r="7.96" fill="url(#bg)" fill-opacity="0.33491598922603616"/>
<circle cx="33.14" cy="44.42" r="7.96" fill="url(#bg)" fill-opacity="0.4081289982145624"/>
<circle cx="22.19" cy="44.78" r="7.96" fill="url(#bg)" fill-opacity="0.2915098420500451"/>
<circle cx="14.51" cy="37.59" r="7.96" fill="url(#bg)" fill-opacity="0.37539733680958964"/>
<circle cx="35.00" cy="42.00" r="8.70" fill="url(#bg)" fill-opacity="0.765"/>
<circle cx="20.00" cy="44.00" r="7.25" fill="url(#bg)" fill-opacity="0.51"/>
<circle cx="30.00" cy="22.00" r="5.80" fill="url(#bg)" fill-opacity="0.425"/>
</g></svg></g>
<text x="322.3" y="474.8" font-size="10.6" text-anchor="start" font-weight="normal" fill="#fff">15.1 s</text>
<g transform="translate(379.50 463.0)"><svg width="57.05" height="60.8" viewBox="0 0 57.05 60.8" overflow="hidden">
<g filter="url(#afmd)"><rect x="-5" y="-5" width="70" height="70.8" fill="#000"/>
<ellipse cx="25.90" cy="35.30" rx="15.26" ry="13.09" fill="#fff" fill-opacity="0.1" stroke="#fff" stroke-opacity="0.58" stroke-width="16.88" transform="rotate(0 25.90 35.30)"/>
<circle cx="39.57" cy="30.32" r="8.98" fill="url(#bg)" fill-opacity="0.3357591846624197"/>
<circle cx="36.82" cy="43.91" r="8.98" fill="url(#bg)" fill-opacity="0.3463864851798185"/>
<circle cx="26.01" cy="47.99" r="8.98" fill="url(#bg)" fill-opacity="0.36004145450584124"/>
<circle cx="11.99" cy="39.77" r="8.98" fill="url(#bg)" fill-opacity="0.3286968505654163"/>
<circle cx="13.81" cy="27.92" r="8.98" fill="url(#bg)" fill-opacity="0.31728022651393517"/>
<circle cx="29.51" cy="22.99" r="8.98" fill="url(#bg)" fill-opacity="0.32086460047142773"/>
<circle cx="22.00" cy="22.50" r="10.15" fill="url(#bg)" fill-opacity="1"/>
<circle cx="12.00" cy="30.00" r="7.25" fill="url(#bg)" fill-opacity="0.595"/>
<circle cx="30.00" cy="24.00" r="7.25" fill="url(#bg)" fill-opacity="0.595"/>
<ellipse cx="41.93" cy="39.84" rx="11.98" ry="2.30" fill="#000" fill-opacity="0.8" transform="rotate(18 41.93 39.84)"/>
<ellipse cx="45.00" cy="45.00" rx="7.00" ry="4.00" fill="#000" fill-opacity="0.6" transform="rotate(35 45.00 45.00)"/>
</g></svg></g>
<text x="379.5" y="474.8" font-size="10.6" text-anchor="start" font-weight="normal" fill="#fff">30.2 s</text>
<g transform="translate(436.55 463.0)"><svg width="57.05" height="60.8" viewBox="0 0 57.05 60.8" overflow="hidden">
<g filter="url(#afmd)"><rect x="-5" y="-5" width="70" height="70.8" fill="#000"/>
<ellipse cx="24.00" cy="36.30" rx="13.41" ry="11.57" fill="#fff" fill-opacity="0.3" stroke="#fff" stroke-opacity="0.56" stroke-width="15.58" transform="rotate(0 24.00 36.30)"/>
<circle cx="19.13" cy="25.95" r="8.29" fill="url(#bg)" fill-opacity="0.1906862975068417"/>
<circle cx="33.66" cy="28.82" r="8.29" fill="url(#bg)" fill-opacity="0.3244819583024291"/>
<circle cx="36.70" cy="38.74" r="8.29" fill="url(#bg)" fill-opacity="0.3342663243285235"/>
<circle cx="25.70" cy="47.37" r="8.29" fill="url(#bg)" fill-opacity="0.15842824556906424"/>
<circle cx="14.23" cy="43.67" r="8.29" fill="url(#bg)" fill-opacity="0.20876422861403612"/>
<circle cx="11.14" cy="34.62" r="8.29" fill="url(#bg)" fill-opacity="0.18345283956271613"/>
<circle cx="24.00" cy="25.00" r="7.25" fill="url(#bg)" fill-opacity="0.51"/>
<circle cx="12.00" cy="32.00" r="5.80" fill="url(#bg)" fill-opacity="0.425"/>
<rect x="49.00" y="33.00" width="3.00" height="5.00" fill="#fff" fill-opacity="0.35"/>
</g></svg></g>
<text x="436.5" y="474.8" font-size="10.6" text-anchor="start" font-weight="normal" fill="#fff">32.7 s</text>
<g transform="translate(37.20 525.4)"><svg width="57.05" height="66.2" viewBox="0 0 57.05 66.2" overflow="hidden">
<g filter="url(#afmd)"><rect x="-5" y="-5" width="70" height="76.2" fill="#000"/>
<ellipse cx="29.90" cy="35.90" rx="11.39" ry="10.09" fill="#fff" fill-opacity="0.08" stroke="#fff" stroke-opacity="0.56" stroke-width="10.78" transform="rotate(0 29.90 35.90)"/>
<circle cx="26.76" cy="45.18" r="5.74" fill="url(#bg)" fill-opacity="0.19978730778911383"/>
<circle cx="19.39" cy="38.72" r="5.74" fill="url(#bg)" fill-opacity="0.2740351347092558"/>
<circle cx="23.04" cy="28.33" r="5.74" fill="url(#bg)" fill-opacity="0.3140197485510239"/>
<circle cx="34.79" cy="27.23" r="5.74" fill="url(#bg)" fill-opacity="0.2119320698381823"/>
<circle cx="40.86" cy="36.56" r="5.74" fill="url(#bg)" fill-opacity="0.14718034811088487"/>
<circle cx="36.67" cy="43.53" r="5.74" fill="url(#bg)" fill-opacity="0.2230381633464123"/>
<circle cx="28.00" cy="24.00" r="5.80" fill="url(#bg)" fill-opacity="0.425"/>
<circle cx="18.00" cy="32.00" r="5.80" fill="url(#bg)" fill-opacity="0.425"/>
<circle cx="38.00" cy="44.00" r="5.80" fill="url(#bg)" fill-opacity="0.34"/>
<rect x="1.00" y="42.00" width="9.00" height="13.00" fill="#fff" fill-opacity="0.26"/>
</g></svg></g>
<text x="42.5" y="537.1999999999999" font-size="10.6" text-anchor="start" font-weight="normal" fill="#fff">0.0 s</text>
<g transform="translate(94.25 525.4)"><svg width="57.05" height="66.2" viewBox="0 0 57.05 66.2" overflow="hidden">
<g filter="url(#afmd)"><rect x="-5" y="-5" width="70" height="76.2" fill="#000"/>
<ellipse cx="28.70" cy="34.90" rx="11.39" ry="10.34" fill="#fff" fill-opacity="0.08" stroke="#fff" stroke-opacity="0.56" stroke-width="11.02" transform="rotate(0 28.70 34.90)"/>
<circle cx="20.49" cy="41.50" r="5.86" fill="url(#bg)" fill-opacity="0.37396402631251024"/>
<circle cx="18.71" cy="30.76" r="5.86" fill="url(#bg)" fill-opacity="0.15684495619037514"/>
<circle cx="28.77" cy="24.96" r="5.86" fill="url(#bg)" fill-opacity="0.1728863142476365"/>
<circle cx="38.09" cy="29.74" r="5.86" fill="url(#bg)" fill-opacity="0.23964891431965746"/>
<circle cx="38.26" cy="39.80" r="5.86" fill="url(#bg)" fill-opacity="0.4086160375177247"/>
<circle cx="27.69" cy="44.80" r="5.86" fill="url(#bg)" fill-opacity="0.2614148260036355"/>
<circle cx="27.00" cy="23.00" r="5.80" fill="url(#bg)" fill-opacity="0.51"/>
<circle cx="40.00" cy="40.00" r="5.80" fill="url(#bg)" fill-opacity="0.425"/>
<rect x="0.60" y="29.00" width="11.00" height="27.00" fill="#fff" fill-opacity="0.46"/>
<ellipse cx="11.50" cy="42.00" rx="3.50" ry="3.50" fill="#000" fill-opacity="0.9" transform="rotate(0 11.50 42.00)"/>
<ellipse cx="5.00" cy="33.00" rx="6.00" ry="2.00" fill="#000" fill-opacity="0.6" transform="rotate(0 5.00 33.00)"/>
</g></svg></g>
<text x="99.1" y="537.1999999999999" font-size="10.6" text-anchor="start" font-weight="normal" fill="#fff">3.3 s</text>
<g transform="translate(151.30 525.4)"><svg width="57.05" height="66.2" viewBox="0 0 57.05 66.2" overflow="hidden">
<g filter="url(#afmd)"><rect x="-5" y="-5" width="70" height="76.2" fill="#000"/>
<ellipse cx="26.80" cy="34.90" rx="11.49" ry="9.93" fill="#fff" fill-opacity="0.06" stroke="#fff" stroke-opacity="0.56" stroke-width="10.36" transform="rotate(0 26.80 34.90)"/>
<circle cx="31.68" cy="26.34" r="5.51" fill="url(#bg)" fill-opacity="0.2478578624846036"/>
<circle cx="37.46" cy="32.29" r="5.51" fill="url(#bg)" fill-opacity="0.30969097635514853"/>
<circle cx="33.28" cy="42.63" r="5.51" fill="url(#bg)" fill-opacity="0.4083190373880413"/>
<circle cx="20.61" cy="42.81" r="5.51" fill="url(#bg)" fill-opacity="0.3131505008175739"/>
<circle cx="15.91" cy="36.70" r="5.51" fill="url(#bg)" fill-opacity="0.3909164907532392"/>
<circle cx="18.39" cy="28.68" r="5.51" fill="url(#bg)" fill-opacity="0.17646170666075878"/>
<circle cx="25.00" cy="24.00" r="5.80" fill="url(#bg)" fill-opacity="0.425"/>
<circle cx="38.00" cy="30.00" r="5.80" fill="url(#bg)" fill-opacity="0.425"/>
<rect x="0.60" y="13.60" width="8.00" height="44.00" fill="#fff" fill-opacity="0.44"/>
<ellipse cx="9.00" cy="30.00" rx="5.00" ry="7.00" fill="#000" fill-opacity="0.5" transform="rotate(0 9.00 30.00)"/>
<rect x="40.00" y="15.00" width="11.00" height="1.20" fill="#fff" fill-opacity="0.52"/>
</g></svg></g>
<text x="155.7" y="537.1999999999999" font-size="10.6" text-anchor="start" font-weight="normal" fill="#fff">4.8 s</text>
<g transform="translate(208.35 525.4)"><svg width="57.05" height="66.2" viewBox="0 0 57.05 66.2" overflow="hidden">
<g filter="url(#afmd)"><rect x="-5" y="-5" width="70" height="76.2" fill="#000"/>
<ellipse cx="26.90" cy="34.90" rx="11.23" ry="9.93" fill="#fff" fill-opacity="0.06" stroke="#fff" stroke-opacity="0.56" stroke-width="10.11" transform="rotate(0 26.90 34.90)"/>
<circle cx="17.21" cy="30.65" r="5.38" fill="url(#bg)" fill-opacity="0.1854112322020908"/>
<circle cx="26.30" cy="25.38" r="5.38" fill="url(#bg)" fill-opacity="0.39031992603132415"/>
<circle cx="35.28" cy="28.86" r="5.38" fill="url(#bg)" fill-opacity="0.26484967562283396"/>
<circle cx="37.25" cy="37.71" r="5.38" fill="url(#bg)" fill-opacity="0.22657802080306344"/>
<circle cx="25.95" cy="44.39" r="5.38" fill="url(#bg)" fill-opacity="0.25068008572461"/>
<circle cx="17.11" cy="38.96" r="5.38" fill="url(#bg)" fill-opacity="0.39645300392370275"/>
<circle cx="22.00" cy="30.00" r="5.80" fill="url(#bg)" fill-opacity="0.51"/>
<circle cx="30.00" cy="46.00" r="5.80" fill="url(#bg)" fill-opacity="0.425"/>
<rect x="0.30" y="13.60" width="9.00" height="44.00" fill="#fff" fill-opacity="0.39"/>
<ellipse cx="9.00" cy="28.00" rx="5.00" ry="6.00" fill="#000" fill-opacity="0.5" transform="rotate(0 9.00 28.00)"/>
</g></svg></g>
<text x="212.5" y="537.1999999999999" font-size="10.6" text-anchor="start" font-weight="normal" fill="#fff">6.9 s</text>
<g transform="translate(265.40 525.4)"><svg width="57.05" height="66.2" viewBox="0 0 57.05 66.2" overflow="hidden">
<g filter="url(#afmd)"><rect x="-5" y="-5" width="70" height="76.2" fill="#000"/>
<ellipse cx="26.70" cy="35.90" rx="11.33" ry="10.54" fill="#fff" fill-opacity="0.06" stroke="#fff" stroke-opacity="0.57" stroke-width="10.40" transform="rotate(0 26.70 35.90)"/>
<circle cx="17.12" cy="31.03" r="5.53" fill="url(#bg)" fill-opacity="0.4148076935419376"/>
<circle cx="27.54" cy="25.79" r="5.53" fill="url(#bg)" fill-opacity="0.26042923825510045"/>
<circle cx="36.18" cy="30.85" r="5.53" fill="url(#bg)" fill-opacity="0.4157074880670335"/>
<circle cx="35.73" cy="41.61" r="5.53" fill="url(#bg)" fill-opacity="0.22518675016700146"/>
<circle cx="25.95" cy="46.02" r="5.53" fill="url(#bg)" fill-opacity="0.18027488138672756"/>
<circle cx="16.61" cy="39.79" r="5.53" fill="url(#bg)" fill-opacity="0.2680666640178977"/>
<circle cx="26.00" cy="23.50" r="5.80" fill="url(#bg)" fill-opacity="0.51"/>
<circle cx="33.00" cy="25.00" r="5.80" fill="url(#bg)" fill-opacity="0.51"/>
<circle cx="20.00" cy="45.00" r="5.80" fill="url(#bg)" fill-opacity="0.425"/>
<rect x="-1.00" y="14.00" width="7.00" height="12.00" fill="#fff" fill-opacity="0.46"/>
<rect x="-1.00" y="38.00" width="8.00" height="14.00" fill="#fff" fill-opacity="0.41"/>
<circle cx="10.00" cy="36.00" r="7.00" fill="url(#bg)" fill-opacity="0.5"/>
</g></svg></g>
<text x="268.5" y="537.1999999999999" font-size="10.6" text-anchor="start" font-weight="normal" fill="#fff">7.2 s</text>
<g transform="translate(322.45 525.4)"><svg width="57.05" height="66.2" viewBox="0 0 57.05 66.2" overflow="hidden">
<g filter="url(#afmd)"><rect x="-5" y="-5" width="70" height="76.2" fill="#000"/>
<ellipse cx="25.90" cy="35.90" rx="10.96" ry="10.44" fill="#fff" fill-opacity="0.06" stroke="#fff" stroke-opacity="0.56" stroke-width="10.34" transform="rotate(0 25.90 35.90)"/>
<circle cx="21.90" cy="45.19" r="5.50" fill="url(#bg)" fill-opacity="0.3727178479740184"/>
<circle cx="16.42" cy="40.33" r="5.50" fill="url(#bg)" fill-opacity="0.2923901499060251"/>
<circle cx="17.82" cy="29.43" r="5.50" fill="url(#bg)" fill-opacity="0.4023241050204478"/>
<circle cx="29.91" cy="26.61" r="5.50" fill="url(#bg)" fill-opacity="0.21406522969009306"/>
<circle cx="35.82" cy="32.46" r="5.50" fill="url(#bg)" fill-opacity="0.18925102408943745"/>
<circle cx="31.61" cy="44.34" r="5.50" fill="url(#bg)" fill-opacity="0.22704039367577478"/>
<circle cx="30.00" cy="43.00" r="7.25" fill="url(#bg)" fill-opacity="0.68"/>
<circle cx="24.00" cy="24.00" r="5.80" fill="url(#bg)" fill-opacity="0.425"/>
<rect x="0.00" y="13.60" width="8.00" height="44.00" fill="#fff" fill-opacity="0.39"/>
<circle cx="10.00" cy="37.00" r="7.00" fill="url(#bg)" fill-opacity="0.5"/>
<rect x="0.00" y="13.60" width="6.00" height="4.00" fill="#fff" fill-opacity="0.52"/>
</g></svg></g>
<text x="323.0" y="537.1999999999999" font-size="10.6" text-anchor="start" font-weight="normal" fill="#fff">8.0 s</text>
<g transform="translate(379.50 525.4)"><svg width="57.05" height="66.2" viewBox="0 0 57.05 66.2" overflow="hidden">
<g filter="url(#afmd)"><rect x="-5" y="-5" width="70" height="76.2" fill="#000"/>
<ellipse cx="25.60" cy="34.90" rx="11.65" ry="10.09" fill="#fff" fill-opacity="0.06" stroke="#fff" stroke-opacity="0.56" stroke-width="11.03" transform="rotate(0 25.60 34.90)"/>
<circle cx="16.77" cy="28.90" r="5.87" fill="url(#bg)" fill-opacity="0.3230513194704836"/>
<circle cx="27.82" cy="25.40" r="5.87" fill="url(#bg)" fill-opacity="0.3499681940997821"/>
<circle cx="35.32" cy="30.02" r="5.87" fill="url(#bg)" fill-opacity="0.35458883948182185"/>
<circle cx="34.91" cy="40.33" r="5.87" fill="url(#bg)" fill-opacity="0.29264493214556164"/>
<circle cx="24.63" cy="44.55" r="5.87" fill="url(#bg)" fill-opacity="0.22803245129911856"/>
<circle cx="15.05" cy="38.27" r="5.87" fill="url(#bg)" fill-opacity="0.273763930182798"/>
<circle cx="25.00" cy="23.50" r="5.80" fill="url(#bg)" fill-opacity="0.595"/>
<circle cx="15.00" cy="31.00" r="5.80" fill="url(#bg)" fill-opacity="0.51"/>
<circle cx="27.00" cy="45.50" r="5.80" fill="url(#bg)" fill-opacity="0.595"/>
<circle cx="38.00" cy="40.00" r="5.80" fill="url(#bg)" fill-opacity="0.51"/>
<rect x="-1.00" y="29.00" width="9.00" height="22.00" fill="#fff" fill-opacity="0.44"/>
<circle cx="9.00" cy="35.00" r="7.00" fill="url(#bg)" fill-opacity="0.5"/>
</g></svg></g>
<text x="379.5" y="537.1999999999999" font-size="10.6" text-anchor="start" font-weight="normal" fill="#fff">9.2 s</text>
<g transform="translate(436.55 525.4)"><svg width="57.05" height="66.2" viewBox="0 0 57.05 66.2" overflow="hidden">
<g filter="url(#afmd)"><rect x="-5" y="-5" width="70" height="76.2" fill="#000"/>
<ellipse cx="24.70" cy="34.90" rx="11.13" ry="10.09" fill="#fff" fill-opacity="0.06" stroke="#fff" stroke-opacity="0.56" stroke-width="10.54" transform="rotate(0 24.70 34.90)"/>
<circle cx="17.00" cy="41.65" r="5.61" fill="url(#bg)" fill-opacity="0.3082896823001424"/>
<circle cx="13.98" cy="35.09" r="5.61" fill="url(#bg)" fill-opacity="0.21591146475845055"/>
<circle cx="20.84" cy="25.86" r="5.61" fill="url(#bg)" fill-opacity="0.39722448900621365"/>
<circle cx="32.83" cy="28.58" r="5.61" fill="url(#bg)" fill-opacity="0.29594669438296517"/>
<circle cx="35.42" cy="34.62" r="5.61" fill="url(#bg)" fill-opacity="0.3594984675381778"/>
<circle cx="28.68" cy="43.90" r="5.61" fill="url(#bg)" fill-opacity="0.3041502076394985"/>
<circle cx="25.00" cy="24.00" r="5.80" fill="url(#bg)" fill-opacity="0.51"/>
<circle cx="27.00" cy="45.00" r="5.80" fill="url(#bg)" fill-opacity="0.68"/>
<circle cx="14.00" cy="34.00" r="5.80" fill="url(#bg)" fill-opacity="0.425"/>
<rect x="-1.00" y="13.60" width="9.00" height="36.00" fill="#fff" fill-opacity="0.39"/>
<rect x="-1.00" y="13.60" width="11.00" height="4.00" fill="#fff" fill-opacity="0.69"/>
<ellipse cx="6.00" cy="30.00" rx="4.00" ry="5.00" fill="#000" fill-opacity="0.4" transform="rotate(0 6.00 30.00)"/>
</g></svg></g>
<text x="435.8" y="537.1999999999999" font-size="10.6" text-anchor="start" font-weight="normal" fill="#fff">11.5 s</text>
<rect x="37.2" y="461.5" width="456.4" height="1.5" fill="#fff"/>
<rect x="37.2" y="523.8" width="456.4" height="1.6" fill="#fff"/>
<rect x="42.0" y="454.6" width="12.4" height="3.2" fill="#fff"/>
<rect x="42.0" y="513.0" width="12.4" height="3.2" fill="#fff"/>
<rect x="42.0" y="577.2" width="12.4" height="3.2" fill="#fff"/>
<text x="30.4" y="432.8" font-size="11.8" text-anchor="middle" font-weight="normal" fill="#1a1a1a" transform="rotate(-90 30.4 432.8)">2 KT/AA</text>
<text x="30.4" y="495.4" font-size="11.8" text-anchor="middle" font-weight="normal" fill="#1a1a1a" transform="rotate(-90 30.4 495.4)">1 E/Q</text>
<text x="30.4" y="559.8" font-size="11.8" text-anchor="middle" font-weight="normal" fill="#1a1a1a" transform="rotate(-90 30.4 559.8)">2 E/Q</text>
<rect x="520.6" y="514.6" width="12.8" height="76.8" fill="url(#cbar)" stroke="#333" stroke-width="0.7"/>
<line x1="518.4" y1="523.9" x2="520.6" y2="523.9" stroke="#222" stroke-width="0.7"/>
<line x1="518.4" y1="540.6" x2="520.6" y2="540.6" stroke="#222" stroke-width="0.7"/>
<line x1="518.4" y1="557.3" x2="520.6" y2="557.3" stroke="#222" stroke-width="0.7"/>
<line x1="518.4" y1="574.0" x2="520.6" y2="574.0" stroke="#222" stroke-width="0.7"/>
<line x1="518.4" y1="590.7" x2="520.6" y2="590.7" stroke="#222" stroke-width="0.7"/>
<text x="517.0" y="527.6" font-size="10.4" text-anchor="end" font-weight="normal" fill="#1a1a1a">8</text>
<text x="517.0" y="594.6" font-size="10.4" text-anchor="end" font-weight="normal" fill="#1a1a1a">0</text>
<text x="506.5" y="555.6" font-size="10.4" text-anchor="middle" font-weight="normal" fill="#1a1a1a" transform="rotate(-90 506.5 555.6)">nm</text>
<rect x="61.22" y="743.80" width="3.53" height="1.20" fill="#222"/>
<rect x="64.75" y="736.60" width="3.53" height="8.40" fill="url(#hatch)" stroke="#2a2a2a" stroke-width="0.7"/>
<rect x="68.28" y="726.30" width="3.53" height="18.70" fill="url(#hatch)" stroke="#2a2a2a" stroke-width="0.7"/>
<rect x="71.81" y="703.40" width="3.53" height="41.60" fill="url(#hatch)" stroke="#2a2a2a" stroke-width="0.7"/>
<rect x="75.34" y="692.50" width="3.53" height="52.50" fill="url(#hatch)" stroke="#2a2a2a" stroke-width="0.7"/>
<rect x="78.87" y="683.50" width="3.53" height="61.50" fill="url(#hatch)" stroke="#2a2a2a" stroke-width="0.7"/>
<rect x="82.40" y="683.50" width="3.53" height="61.50" fill="url(#hatch)" stroke="#2a2a2a" stroke-width="0.7"/>
<rect x="85.93" y="691.50" width="3.53" height="53.50" fill="url(#hatch)" stroke="#2a2a2a" stroke-width="0.7"/>
<rect x="89.46" y="705.40" width="3.53" height="39.60" fill="url(#hatch)" stroke="#2a2a2a" stroke-width="0.7"/>
<rect x="92.99" y="713.40" width="3.53" height="31.60" fill="url(#hatch)" stroke="#2a2a2a" stroke-width="0.7"/>
<rect x="96.52" y="719.40" width="3.53" height="25.60" fill="url(#hatch)" stroke="#2a2a2a" stroke-width="0.7"/>
<rect x="100.05" y="727.40" width="3.53" height="17.60" fill="url(#hatch)" stroke="#2a2a2a" stroke-width="0.7"/>
<rect x="103.58" y="731.10" width="3.53" height="13.90" fill="url(#hatch)" stroke="#2a2a2a" stroke-width="0.7"/>
<rect x="107.11" y="733.50" width="3.53" height="11.50" fill="url(#hatch)" stroke="#2a2a2a" stroke-width="0.7"/>
<rect x="110.64" y="738.50" width="3.53" height="6.50" fill="url(#hatch)" stroke="#2a2a2a" stroke-width="0.7"/>
<rect x="114.17" y="737.50" width="3.53" height="7.50" fill="url(#hatch)" stroke="#2a2a2a" stroke-width="0.7"/>
<rect x="117.70" y="736.60" width="3.53" height="8.40" fill="url(#hatch)" stroke="#2a2a2a" stroke-width="0.7"/>
<rect x="121.23" y="738.10" width="3.53" height="6.90" fill="url(#hatch)" stroke="#2a2a2a" stroke-width="0.7"/>
<rect x="124.76" y="738.50" width="3.53" height="6.50" fill="url(#hatch)" stroke="#2a2a2a" stroke-width="0.7"/>
<rect x="128.29" y="739.50" width="3.53" height="5.50" fill="url(#hatch)" stroke="#2a2a2a" stroke-width="0.7"/>
<rect x="131.82" y="741.30" width="3.53" height="3.70" fill="url(#hatch)" stroke="#2a2a2a" stroke-width="0.7"/>
<rect x="135.35" y="743.20" width="3.53" height="1.80" fill="url(#hatch)" stroke="#2a2a2a" stroke-width="0.7"/>
<rect x="138.88" y="742.50" width="3.53" height="2.50" fill="url(#hatch)" stroke="#2a2a2a" stroke-width="0.7"/>
<rect x="142.41" y="743.50" width="3.53" height="1.50" fill="url(#hatch)" stroke="#2a2a2a" stroke-width="0.7"/>
<rect x="145.94" y="744.00" width="3.53" height="1.00" fill="#222"/>
<rect x="149.47" y="744.20" width="3.53" height="0.80" fill="#222"/>
<rect x="153.00" y="744.20" width="3.53" height="0.80" fill="#222"/>
<line x1="46.9" y1="619.2" x2="46.9" y2="745.4" stroke="#1a1a1a" stroke-width="0.9"/>
<line x1="46.5" y1="745.0" x2="188.7" y2="745.0" stroke="#1a1a1a" stroke-width="0.9"/>
<line x1="42.5" y1="745.0" x2="46.9" y2="745.0" stroke="#1a1a1a" stroke-width="0.9"/>
<text x="38.2" y="748.7" font-size="10.5" text-anchor="end" font-weight="normal" fill="#1a1a1a">0.00</text>
<line x1="42.5" y1="719.92" x2="46.9" y2="719.92" stroke="#1a1a1a" stroke-width="0.9"/>
<text x="38.2" y="723.62" font-size="10.5" text-anchor="end" font-weight="normal" fill="#1a1a1a">0.05</text>
<line x1="42.5" y1="694.84" x2="46.9" y2="694.84" stroke="#1a1a1a" stroke-width="0.9"/>
<text x="38.2" y="698.5400000000001" font-size="10.5" text-anchor="end" font-weight="normal" fill="#1a1a1a">0.10</text>
<line x1="42.5" y1="669.76" x2="46.9" y2="669.76" stroke="#1a1a1a" stroke-width="0.9"/>
<text x="38.2" y="673.46" font-size="10.5" text-anchor="end" font-weight="normal" fill="#1a1a1a">0.15</text>
<line x1="42.5" y1="644.6800000000001" x2="46.9" y2="644.6800000000001" stroke="#1a1a1a" stroke-width="0.9"/>
<text x="38.2" y="648.3800000000001" font-size="10.5" text-anchor="end" font-weight="normal" fill="#1a1a1a">0.20</text>
<line x1="42.5" y1="619.6" x2="46.9" y2="619.6" stroke="#1a1a1a" stroke-width="0.9"/>
<text x="38.2" y="623.3000000000001" font-size="10.5" text-anchor="end" font-weight="normal" fill="#1a1a1a">0.25</text>
<line x1="47.1" y1="745.0" x2="47.1" y2="748.6" stroke="#1a1a1a" stroke-width="0.9"/>
<text x="47.1" y="763.7" font-size="10.5" text-anchor="middle" font-weight="normal" fill="#1a1a1a">0.0</text>
<line x1="82.4" y1="745.0" x2="82.4" y2="748.6" stroke="#1a1a1a" stroke-width="0.9"/>
<text x="82.4" y="763.7" font-size="10.5" text-anchor="middle" font-weight="normal" fill="#1a1a1a">0.2</text>
<line x1="117.69999999999999" y1="745.0" x2="117.69999999999999" y2="748.6" stroke="#1a1a1a" stroke-width="0.9"/>
<text x="117.69999999999999" y="763.7" font-size="10.5" text-anchor="middle" font-weight="normal" fill="#1a1a1a">0.4</text>
<line x1="153.0" y1="745.0" x2="153.0" y2="748.6" stroke="#1a1a1a" stroke-width="0.9"/>
<text x="153.0" y="763.7" font-size="10.5" text-anchor="middle" font-weight="normal" fill="#1a1a1a">0.6</text>
<line x1="188.29999999999998" y1="745.0" x2="188.29999999999998" y2="748.6" stroke="#1a1a1a" stroke-width="0.9"/>
<text x="188.29999999999998" y="763.7" font-size="10.5" text-anchor="middle" font-weight="normal" fill="#1a1a1a">0.8</text>
<text x="116.5" y="619.7" font-size="10.3" text-anchor="middle" font-weight="normal" fill="#1a1a1a">2 KT/AA</text>
<text x="9.4" y="681.0" font-size="10.5" text-anchor="middle" font-weight="normal" fill="#1a1a1a" transform="rotate(-90 9.4 681.0)">Normalized count</text>
<text x="118.69999999999999" y="779.9" font-size="10.1" text-anchor="middle" font-weight="normal" fill="#1a1a1a">SDCH (nm)</text>
<rect x="263.85" y="743.10" width="3.53" height="1.90" fill="url(#hatch)" stroke="#2a2a2a" stroke-width="0.7"/>
<rect x="267.38" y="735.40" width="3.53" height="9.60" fill="url(#hatch)" stroke="#2a2a2a" stroke-width="0.7"/>
<rect x="270.91" y="720.70" width="3.53" height="24.30" fill="url(#hatch)" stroke="#2a2a2a" stroke-width="0.7"/>
<rect x="274.44" y="700.70" width="3.53" height="44.30" fill="url(#hatch)" stroke="#2a2a2a" stroke-width="0.7"/>
<rect x="277.97" y="679.70" width="3.53" height="65.30" fill="url(#hatch)" stroke="#2a2a2a" stroke-width="0.7"/>
<rect x="281.50" y="669.60" width="3.53" height="75.40" fill="url(#hatch)" stroke="#2a2a2a" stroke-width="0.7"/>
<rect x="285.03" y="682.70" width="3.53" height="62.30" fill="url(#hatch)" stroke="#2a2a2a" stroke-width="0.7"/>
<rect x="288.56" y="704.00" width="3.53" height="41.00" fill="url(#hatch)" stroke="#2a2a2a" stroke-width="0.7"/>
<rect x="292.09" y="727.70" width="3.53" height="17.30" fill="url(#hatch)" stroke="#2a2a2a" stroke-width="0.7"/>
<rect x="295.62" y="740.60" width="3.53" height="4.40" fill="url(#hatch)" stroke="#2a2a2a" stroke-width="0.7"/>
<rect x="299.15" y="742.20" width="3.53" height="2.80" fill="url(#hatch)" stroke="#2a2a2a" stroke-width="0.7"/>
<rect x="302.68" y="737.30" width="3.53" height="7.70" fill="url(#hatch)" stroke="#2a2a2a" stroke-width="0.7"/>
<rect x="306.21" y="733.80" width="3.53" height="11.20" fill="url(#hatch)" stroke="#2a2a2a" stroke-width="0.7"/>
<rect x="309.74" y="728.40" width="3.53" height="16.60" fill="url(#hatch)" stroke="#2a2a2a" stroke-width="0.7"/>
<rect x="313.27" y="729.10" width="3.53" height="15.90" fill="url(#hatch)" stroke="#2a2a2a" stroke-width="0.7"/>
<rect x="316.80" y="727.70" width="3.53" height="17.30" fill="url(#hatch)" stroke="#2a2a2a" stroke-width="0.7"/>
<rect x="320.33" y="729.50" width="3.53" height="15.50" fill="url(#hatch)" stroke="#2a2a2a" stroke-width="0.7"/>
<rect x="323.86" y="734.70" width="3.53" height="10.30" fill="url(#hatch)" stroke="#2a2a2a" stroke-width="0.7"/>
<rect x="327.39" y="738.70" width="3.53" height="6.30" fill="url(#hatch)" stroke="#2a2a2a" stroke-width="0.7"/>
<rect x="330.92" y="740.10" width="3.53" height="4.90" fill="url(#hatch)" stroke="#2a2a2a" stroke-width="0.7"/>
<rect x="334.45" y="741.30" width="3.53" height="3.70" fill="url(#hatch)" stroke="#2a2a2a" stroke-width="0.7"/>
<rect x="337.98" y="743.40" width="3.53" height="1.60" fill="url(#hatch)" stroke="#2a2a2a" stroke-width="0.7"/>
<rect x="341.51" y="743.80" width="3.53" height="1.20" fill="#222"/>
<rect x="345.04" y="744.20" width="3.53" height="0.80" fill="#222"/>
<rect x="348.57" y="744.20" width="3.53" height="0.80" fill="#222"/>
<rect x="352.10" y="744.20" width="3.53" height="0.80" fill="#222"/>
<rect x="355.63" y="744.20" width="3.53" height="0.80" fill="#222"/>
<rect x="359.16" y="744.20" width="3.53" height="0.80" fill="#222"/>
<rect x="362.69" y="744.20" width="3.53" height="0.80" fill="#222"/>
<rect x="366.22" y="744.20" width="3.53" height="0.80" fill="#222"/>
<rect x="369.75" y="743.60" width="3.53" height="1.40" fill="url(#hatch)" stroke="#2a2a2a" stroke-width="0.7"/>
<rect x="373.28" y="744.20" width="3.53" height="0.80" fill="#222"/>
<rect x="376.81" y="743.60" width="3.53" height="1.40" fill="url(#hatch)" stroke="#2a2a2a" stroke-width="0.7"/>
<rect x="380.34" y="744.20" width="3.53" height="0.80" fill="#222"/>
<rect x="383.87" y="744.20" width="3.53" height="0.80" fill="#222"/>
<line x1="246.0" y1="619.2" x2="246.0" y2="745.4" stroke="#1a1a1a" stroke-width="0.9"/>
<line x1="245.6" y1="745.0" x2="387.79999999999995" y2="745.0" stroke="#1a1a1a" stroke-width="0.9"/>
<line x1="241.6" y1="745.0" x2="246.0" y2="745.0" stroke="#1a1a1a" stroke-width="0.9"/>
<text x="237.29999999999998" y="748.7" font-size="10.5" text-anchor="end" font-weight="normal" fill="#1a1a1a">0.00</text>
<line x1="241.6" y1="719.92" x2="246.0" y2="719.92" stroke="#1a1a1a" stroke-width="0.9"/>
<text x="237.29999999999998" y="723.62" font-size="10.5" text-anchor="end" font-weight="normal" fill="#1a1a1a">0.05</text>
<line x1="241.6" y1="694.84" x2="246.0" y2="694.84" stroke="#1a1a1a" stroke-width="0.9"/>
<text x="237.29999999999998" y="698.5400000000001" font-size="10.5" text-anchor="end" font-weight="normal" fill="#1a1a1a">0.10</text>
<line x1="241.6" y1="669.76" x2="246.0" y2="669.76" stroke="#1a1a1a" stroke-width="0.9"/>
<text x="237.29999999999998" y="673.46" font-size="10.5" text-anchor="end" font-weight="normal" fill="#1a1a1a">0.15</text>
<line x1="241.6" y1="644.6800000000001" x2="246.0" y2="644.6800000000001" stroke="#1a1a1a" stroke-width="0.9"/>
<text x="237.29999999999998" y="648.3800000000001" font-size="10.5" text-anchor="end" font-weight="normal" fill="#1a1a1a">0.20</text>
<line x1="241.6" y1="619.6" x2="246.0" y2="619.6" stroke="#1a1a1a" stroke-width="0.9"/>
<text x="237.29999999999998" y="623.3000000000001" font-size="10.5" text-anchor="end" font-weight="normal" fill="#1a1a1a">0.25</text>
<line x1="246.2" y1="745.0" x2="246.2" y2="748.6" stroke="#1a1a1a" stroke-width="0.9"/>
<text x="246.2" y="763.7" font-size="10.5" text-anchor="middle" font-weight="normal" fill="#1a1a1a">0.0</text>
<line x1="281.5" y1="745.0" x2="281.5" y2="748.6" stroke="#1a1a1a" stroke-width="0.9"/>
<text x="281.5" y="763.7" font-size="10.5" text-anchor="middle" font-weight="normal" fill="#1a1a1a">0.2</text>
<line x1="316.79999999999995" y1="745.0" x2="316.79999999999995" y2="748.6" stroke="#1a1a1a" stroke-width="0.9"/>
<text x="316.79999999999995" y="763.7" font-size="10.5" text-anchor="middle" font-weight="normal" fill="#1a1a1a">0.4</text>
<line x1="352.09999999999997" y1="745.0" x2="352.09999999999997" y2="748.6" stroke="#1a1a1a" stroke-width="0.9"/>
<text x="352.09999999999997" y="763.7" font-size="10.5" text-anchor="middle" font-weight="normal" fill="#1a1a1a">0.6</text>
<line x1="387.4" y1="745.0" x2="387.4" y2="748.6" stroke="#1a1a1a" stroke-width="0.9"/>
<text x="387.4" y="763.7" font-size="10.5" text-anchor="middle" font-weight="normal" fill="#1a1a1a">0.8</text>
<text x="316.7" y="619.7" font-size="10.3" text-anchor="middle" font-weight="normal" fill="#1a1a1a">1 E/Q</text>
<text x="209.4" y="681.0" font-size="10.5" text-anchor="middle" font-weight="normal" fill="#1a1a1a" transform="rotate(-90 209.4 681.0)">Normalized count</text>
<text x="317.79999999999995" y="779.9" font-size="10.1" text-anchor="middle" font-weight="normal" fill="#1a1a1a">SDCH (nm)</text>
<rect x="467.65" y="744.20" width="3.53" height="0.80" fill="#222"/>
<rect x="471.18" y="735.70" width="3.53" height="9.30" fill="url(#hatch)" stroke="#2a2a2a" stroke-width="0.7"/>
<rect x="474.71" y="712.90" width="3.53" height="32.10" fill="url(#hatch)" stroke="#2a2a2a" stroke-width="0.7"/>
<rect x="478.24" y="674.80" width="3.53" height="70.20" fill="url(#hatch)" stroke="#2a2a2a" stroke-width="0.7"/>
<rect x="481.77" y="642.70" width="3.53" height="102.30" fill="url(#hatch)" stroke="#2a2a2a" stroke-width="0.7"/>
<rect x="485.30" y="636.70" width="3.53" height="108.30" fill="url(#hatch)" stroke="#2a2a2a" stroke-width="0.7"/>
<rect x="488.83" y="657.60" width="3.53" height="87.40" fill="url(#hatch)" stroke="#2a2a2a" stroke-width="0.7"/>
<rect x="492.36" y="693.70" width="3.53" height="51.30" fill="url(#hatch)" stroke="#2a2a2a" stroke-width="0.7"/>
<rect x="495.89" y="722.20" width="3.53" height="22.80" fill="url(#hatch)" stroke="#2a2a2a" stroke-width="0.7"/>
<rect x="499.42" y="741.70" width="3.53" height="3.30" fill="url(#hatch)" stroke="#2a2a2a" stroke-width="0.7"/>
<rect x="502.95" y="744.20" width="3.53" height="0.80" fill="#222"/>
<line x1="449.8" y1="619.2" x2="449.8" y2="745.4" stroke="#1a1a1a" stroke-width="0.9"/>
<line x1="449.4" y1="745.0" x2="591.6" y2="745.0" stroke="#1a1a1a" stroke-width="0.9"/>
<line x1="445.4" y1="745.0" x2="449.8" y2="745.0" stroke="#1a1a1a" stroke-width="0.9"/>
<text x="441.1" y="748.7" font-size="10.5" text-anchor="end" font-weight="normal" fill="#1a1a1a">0.00</text>
<line x1="445.4" y1="719.92" x2="449.8" y2="719.92" stroke="#1a1a1a" stroke-width="0.9"/>
<text x="441.1" y="723.62" font-size="10.5" text-anchor="end" font-weight="normal" fill="#1a1a1a">0.05</text>
<line x1="445.4" y1="694.84" x2="449.8" y2="694.84" stroke="#1a1a1a" stroke-width="0.9"/>
<text x="441.1" y="698.5400000000001" font-size="10.5" text-anchor="end" font-weight="normal" fill="#1a1a1a">0.10</text>
<line x1="445.4" y1="669.76" x2="449.8" y2="669.76" stroke="#1a1a1a" stroke-width="0.9"/>
<text x="441.1" y="673.46" font-size="10.5" text-anchor="end" font-weight="normal" fill="#1a1a1a">0.15</text>
<line x1="445.4" y1="644.6800000000001" x2="449.8" y2="644.6800000000001" stroke="#1a1a1a" stroke-width="0.9"/>
<text x="441.1" y="648.3800000000001" font-size="10.5" text-anchor="end" font-weight="normal" fill="#1a1a1a">0.20</text>
<line x1="445.4" y1="619.6" x2="449.8" y2="619.6" stroke="#1a1a1a" stroke-width="0.9"/>
<text x="441.1" y="623.3000000000001" font-size="10.5" text-anchor="end" font-weight="normal" fill="#1a1a1a">0.25</text>
<line x1="450.0" y1="745.0" x2="450.0" y2="748.6" stroke="#1a1a1a" stroke-width="0.9"/>
<text x="450.0" y="763.7" font-size="10.5" text-anchor="middle" font-weight="normal" fill="#1a1a1a">0.0</text>
<line x1="485.3" y1="745.0" x2="485.3" y2="748.6" stroke="#1a1a1a" stroke-width="0.9"/>
<text x="485.3" y="763.7" font-size="10.5" text-anchor="middle" font-weight="normal" fill="#1a1a1a">0.2</text>
<line x1="520.6" y1="745.0" x2="520.6" y2="748.6" stroke="#1a1a1a" stroke-width="0.9"/>
<text x="520.6" y="763.7" font-size="10.5" text-anchor="middle" font-weight="normal" fill="#1a1a1a">0.4</text>
<line x1="555.9" y1="745.0" x2="555.9" y2="748.6" stroke="#1a1a1a" stroke-width="0.9"/>
<text x="555.9" y="763.7" font-size="10.5" text-anchor="middle" font-weight="normal" fill="#1a1a1a">0.6</text>
<line x1="591.2" y1="745.0" x2="591.2" y2="748.6" stroke="#1a1a1a" stroke-width="0.9"/>
<text x="591.2" y="763.7" font-size="10.5" text-anchor="middle" font-weight="normal" fill="#1a1a1a">0.8</text>
<text x="519.5" y="619.7" font-size="10.3" text-anchor="middle" font-weight="normal" fill="#1a1a1a">2 E/Q</text>
<text x="413.4" y="681.0" font-size="10.5" text-anchor="middle" font-weight="normal" fill="#1a1a1a" transform="rotate(-90 413.4 681.0)">Normalized count</text>
<text x="521.6" y="779.9" font-size="10.1" text-anchor="middle" font-weight="normal" fill="#1a1a1a">SDCH (nm)</text>
</svg></body></html>
